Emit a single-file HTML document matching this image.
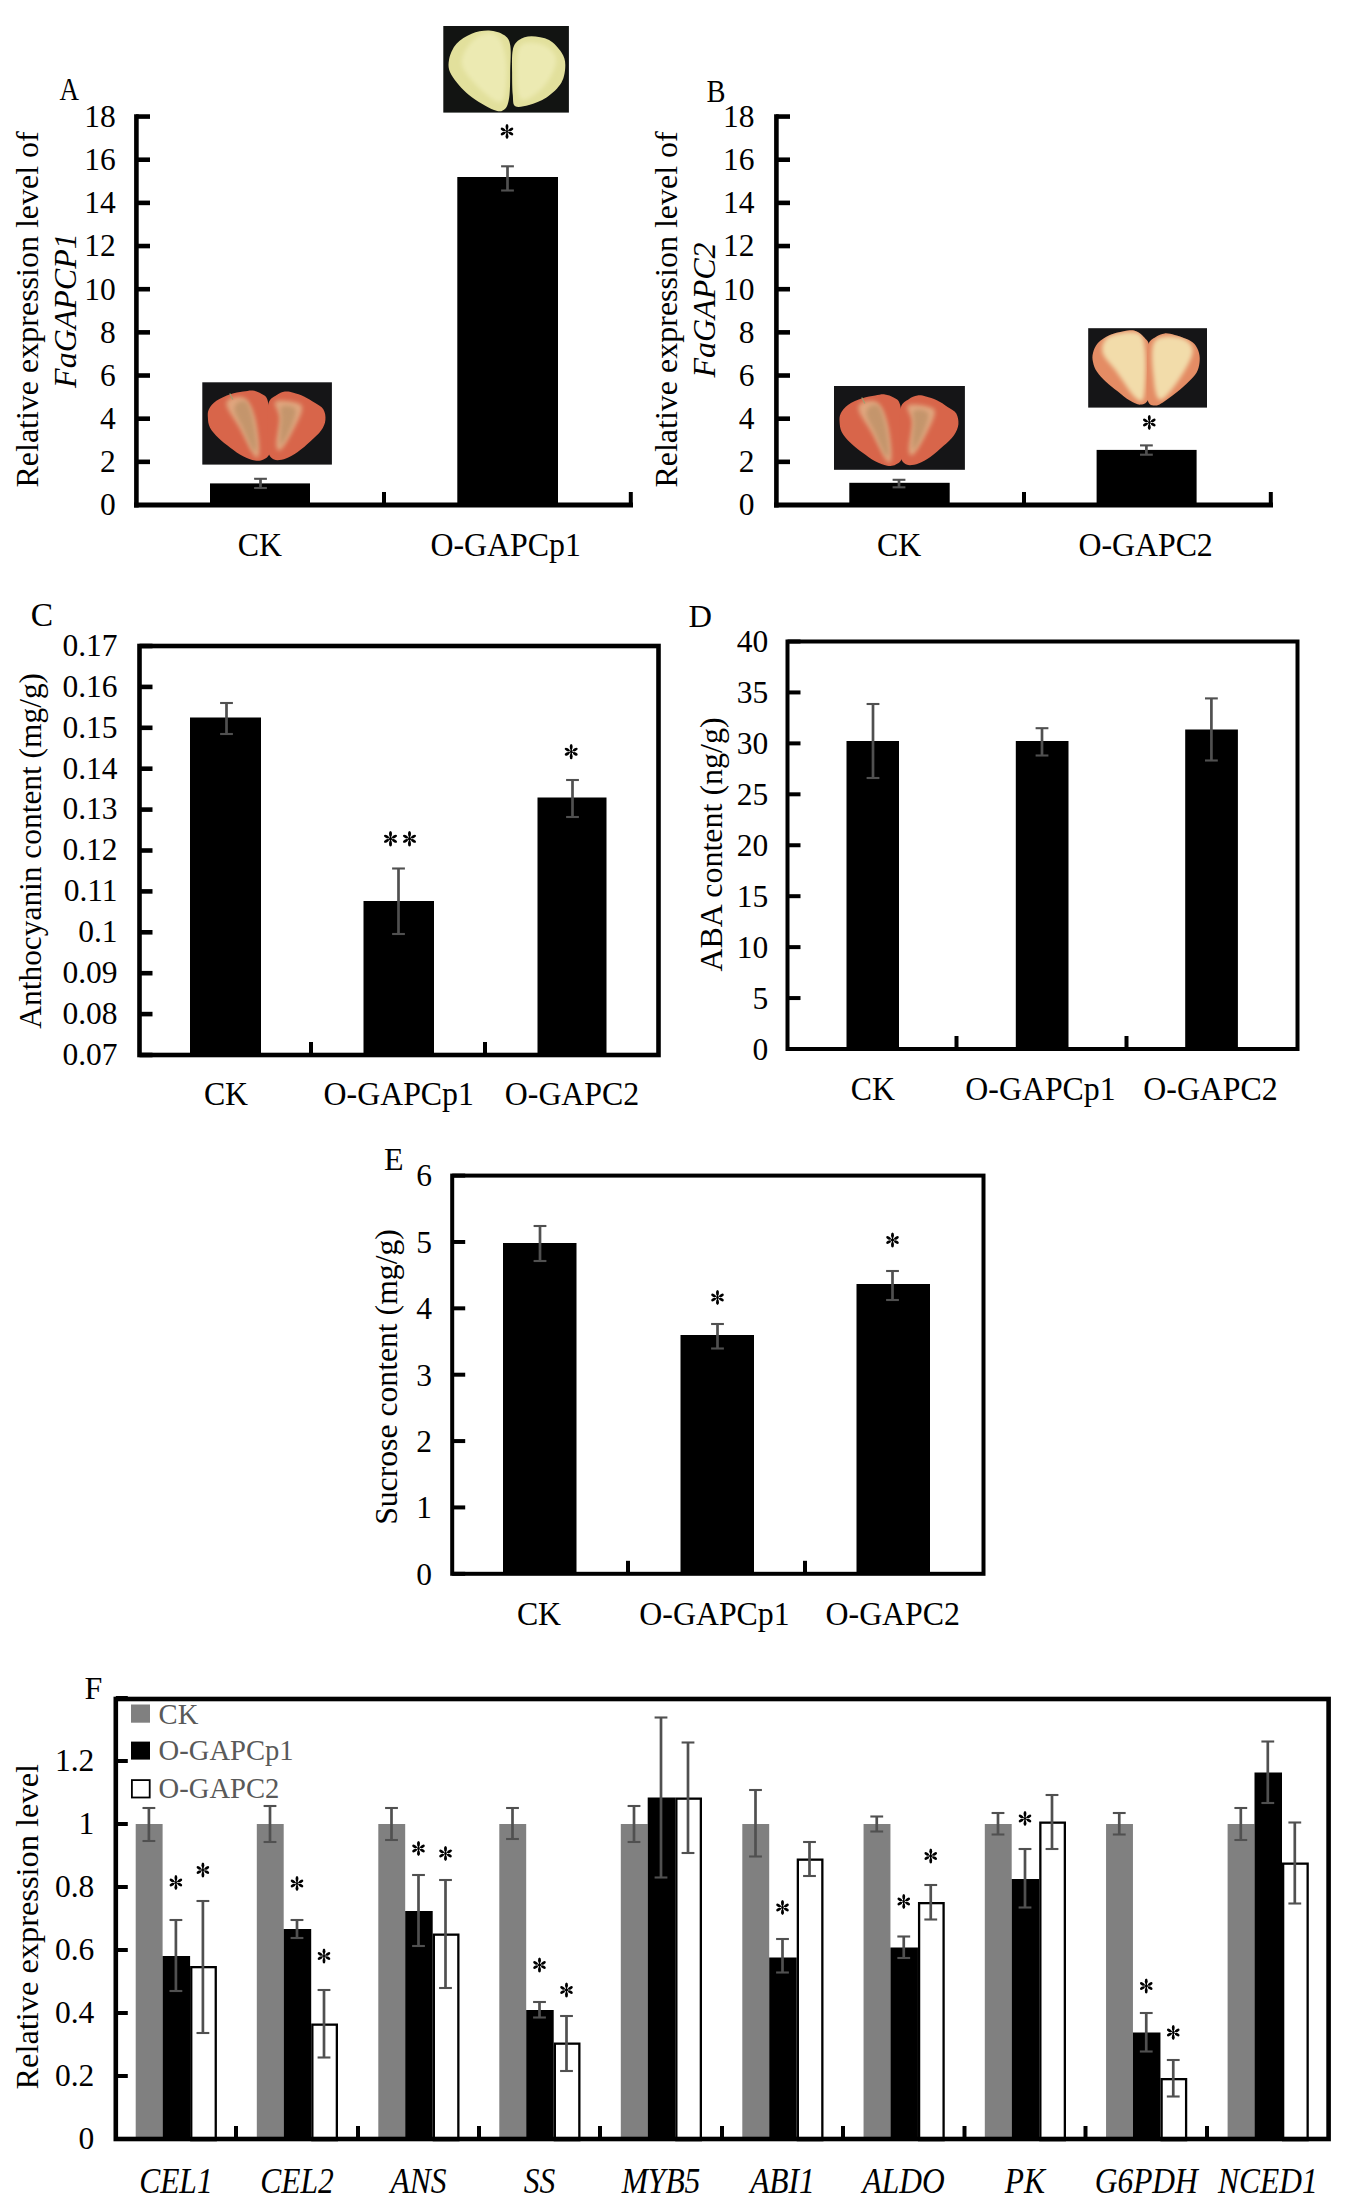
<!DOCTYPE html>
<html><head><meta charset="utf-8"><style>
html,body{margin:0;padding:0;background:#fff;width:1356px;height:2207px;overflow:hidden;}
</style></head><body>
<svg width="1356" height="2207" viewBox="0 0 1356 2207" style="display:block">
<defs><filter id="bl" x="-20%" y="-20%" width="140%" height="140%"><feGaussianBlur stdDeviation="2.2"/></filter></defs>
<g font-family='"Liberation Serif", serif'>
<line x1="136.40" y1="114.20" x2="136.40" y2="507.50" stroke="#000" stroke-width="4.6" stroke-linecap="butt"/>
<text x="115.80" y="515.40" font-size="31.5" text-anchor="end" fill="#000" >0</text>
<line x1="136.00" y1="461.84" x2="150.00" y2="461.84" stroke="#000" stroke-width="4.6" stroke-linecap="butt"/>
<text x="115.80" y="472.24" font-size="31.5" text-anchor="end" fill="#000" >2</text>
<line x1="136.00" y1="418.68" x2="150.00" y2="418.68" stroke="#000" stroke-width="4.6" stroke-linecap="butt"/>
<text x="115.80" y="429.08" font-size="31.5" text-anchor="end" fill="#000" >4</text>
<line x1="136.00" y1="375.52" x2="150.00" y2="375.52" stroke="#000" stroke-width="4.6" stroke-linecap="butt"/>
<text x="115.80" y="385.92" font-size="31.5" text-anchor="end" fill="#000" >6</text>
<line x1="136.00" y1="332.36" x2="150.00" y2="332.36" stroke="#000" stroke-width="4.6" stroke-linecap="butt"/>
<text x="115.80" y="342.76" font-size="31.5" text-anchor="end" fill="#000" >8</text>
<line x1="136.00" y1="289.20" x2="150.00" y2="289.20" stroke="#000" stroke-width="4.6" stroke-linecap="butt"/>
<text x="115.80" y="299.60" font-size="31.5" text-anchor="end" fill="#000" >10</text>
<line x1="136.00" y1="246.04" x2="150.00" y2="246.04" stroke="#000" stroke-width="4.6" stroke-linecap="butt"/>
<text x="115.80" y="256.44" font-size="31.5" text-anchor="end" fill="#000" >12</text>
<line x1="136.00" y1="202.88" x2="150.00" y2="202.88" stroke="#000" stroke-width="4.6" stroke-linecap="butt"/>
<text x="115.80" y="213.28" font-size="31.5" text-anchor="end" fill="#000" >14</text>
<line x1="136.00" y1="159.72" x2="150.00" y2="159.72" stroke="#000" stroke-width="4.6" stroke-linecap="butt"/>
<text x="115.80" y="170.12" font-size="31.5" text-anchor="end" fill="#000" >16</text>
<line x1="136.00" y1="116.56" x2="150.00" y2="116.56" stroke="#000" stroke-width="4.6" stroke-linecap="butt"/>
<text x="115.80" y="126.96" font-size="31.5" text-anchor="end" fill="#000" >18</text>
<line x1="134.00" y1="505.00" x2="633.00" y2="505.00" stroke="#000" stroke-width="5" stroke-linecap="butt"/>
<line x1="384.00" y1="492.00" x2="384.00" y2="505.00" stroke="#000" stroke-width="4" stroke-linecap="butt"/>
<line x1="630.80" y1="492.00" x2="630.80" y2="505.00" stroke="#000" stroke-width="4" stroke-linecap="butt"/>
<rect x="210.00" y="483.40" width="100.00" height="21.60" fill="#000" />
<rect x="457.30" y="177.00" width="100.70" height="328.00" fill="#000" />
<line x1="260.50" y1="478.80" x2="260.50" y2="488.00" stroke="#505050" stroke-width="2.7" stroke-linecap="butt"/>
<line x1="254.10" y1="478.80" x2="266.90" y2="478.80" stroke="#505050" stroke-width="2.1" stroke-linecap="butt"/>
<line x1="254.10" y1="488.00" x2="266.90" y2="488.00" stroke="#505050" stroke-width="2.1" stroke-linecap="butt"/>
<line x1="507.50" y1="166.30" x2="507.50" y2="190.50" stroke="#505050" stroke-width="2.7" stroke-linecap="butt"/>
<line x1="501.10" y1="166.30" x2="513.90" y2="166.30" stroke="#505050" stroke-width="2.1" stroke-linecap="butt"/>
<line x1="501.10" y1="190.50" x2="513.90" y2="190.50" stroke="#505050" stroke-width="2.1" stroke-linecap="butt"/>
<line x1="507.00" y1="125.12" x2="507.00" y2="137.88" stroke="#000" stroke-width="1.50"/><ellipse cx="507.00" cy="126.78" rx="1.43" ry="2.70" fill="#000"/><ellipse cx="507.00" cy="136.22" rx="1.43" ry="2.70" fill="#000"/><line x1="507.00" y1="131.50" x2="510.97" y2="129.39" stroke="#000" stroke-width="0.98"/><ellipse cx="510.97" cy="129.39" rx="2.55" ry="1.43" transform="rotate(-28 510.97 129.39)" fill="#000"/><line x1="507.00" y1="131.50" x2="510.97" y2="133.61" stroke="#000" stroke-width="0.98"/><ellipse cx="510.97" cy="133.61" rx="2.55" ry="1.43" transform="rotate(28 510.97 133.61)" fill="#000"/><line x1="507.00" y1="131.50" x2="503.03" y2="133.61" stroke="#000" stroke-width="0.98"/><ellipse cx="503.03" cy="133.61" rx="2.55" ry="1.43" transform="rotate(152 503.03 133.61)" fill="#000"/><line x1="507.00" y1="131.50" x2="503.03" y2="129.39" stroke="#000" stroke-width="0.98"/><ellipse cx="503.03" cy="129.39" rx="2.55" ry="1.43" transform="rotate(208 503.03 129.39)" fill="#000"/>
<text x="259.80" y="555.60" font-size="33" text-anchor="middle" fill="#000" transform="translate(259.80 555.60) scale(0.965 1) translate(-259.80 -555.60)" >CK</text>
<text x="505.70" y="555.60" font-size="33" text-anchor="middle" fill="#000" transform="translate(505.70 555.60) scale(0.965 1) translate(-505.70 -555.60)" >O-GAPCp1</text>
<text x="59.50" y="100.00" font-size="32" text-anchor="start" fill="#000" textLength="19.50" lengthAdjust="spacingAndGlyphs" >A</text>
<text x="38.00" y="309.40" font-size="32" text-anchor="middle" fill="#000" transform="rotate(-90 38.00 309.40)" >Relative expression level of</text>
<text x="75.80" y="310.60" font-size="32" text-anchor="middle" fill="#000" font-style="italic" transform="rotate(-90 75.80 310.60)" >FaGAPCP1</text>
<rect x="202.30" y="382.30" width="129.60" height="82.30" fill="#151517" />
<clipPath id="cl1"><path d="M267.7,400.7 C266.2,394.9 263.8,395.4 261.3,393.7 C258.8,392.1 255.7,390.9 252.7,390.5 C249.7,390.2 246.9,391.0 243.1,391.6 C239.4,392.2 234.7,392.7 230.3,394.2 C225.8,395.7 220.0,398.2 216.4,400.7 C212.9,403.1 210.3,406.4 208.9,409.2 C207.5,412.1 207.7,414.7 207.9,417.8 C208.0,420.8 208.2,424.0 209.9,427.4 C211.7,430.8 215.1,434.7 218.5,438.1 C221.9,441.5 226.2,444.7 230.3,447.7 C234.4,450.8 239.0,454.1 243.1,456.3 C247.2,458.4 251.5,460.0 254.9,460.6 C258.3,461.1 261.0,460.9 263.5,459.5 C266.0,458.1 268.7,457.2 270.0,452.0 C271.2,446.8 271.1,437.0 270.7,428.5 C270.4,419.9 269.3,406.4 267.7,400.7 Z"/></clipPath>
<path d="M267.7,400.7 C266.2,394.9 263.8,395.4 261.3,393.7 C258.8,392.1 255.7,390.9 252.7,390.5 C249.7,390.2 246.9,391.0 243.1,391.6 C239.4,392.2 234.7,392.7 230.3,394.2 C225.8,395.7 220.0,398.2 216.4,400.7 C212.9,403.1 210.3,406.4 208.9,409.2 C207.5,412.1 207.7,414.7 207.9,417.8 C208.0,420.8 208.2,424.0 209.9,427.4 C211.7,430.8 215.1,434.7 218.5,438.1 C221.9,441.5 226.2,444.7 230.3,447.7 C234.4,450.8 239.0,454.1 243.1,456.3 C247.2,458.4 251.5,460.0 254.9,460.6 C258.3,461.1 261.0,460.9 263.5,459.5 C266.0,458.1 268.7,457.2 270.0,452.0 C271.2,446.8 271.1,437.0 270.7,428.5 C270.4,419.9 269.3,406.4 267.7,400.7 Z" fill="#d8654a"/>
<g clip-path="url(#cl1)"><path d="M230.3,398.5 C233.3,397.1 241.2,395.3 245.3,398.5 C249.4,401.7 252.6,409.2 254.9,417.8 C257.2,426.3 259.2,443.4 259.2,449.9 C259.2,456.3 258.1,459.9 254.9,456.3 C251.7,452.7 244.5,436.7 239.9,428.5 C235.2,420.3 228.7,412.1 227.1,407.1 C225.5,402.1 227.2,399.9 230.3,398.5 Z" fill="#e0a67e" filter="url(#bl)"/></g>
<clipPath id="cl2"><path d="M268.7,402.8 C270.1,398.2 273.6,397.2 276.3,395.3 C279.0,393.4 282.0,392.0 284.9,391.6 C287.7,391.2 290.2,391.9 293.4,392.7 C296.6,393.5 300.5,394.7 304.0,396.4 C307.6,398.1 311.6,400.7 314.8,402.8 C318.0,404.9 321.6,406.4 323.3,409.2 C325.1,412.1 325.8,416.3 325.4,419.9 C325.1,423.5 323.6,427.0 321.1,430.6 C318.7,434.2 314.4,437.7 310.5,441.3 C306.6,444.9 301.8,449.2 297.7,452.0 C293.6,454.9 289.8,457.2 285.9,458.4 C282.0,459.7 277.1,460.9 274.1,459.5 C271.1,458.1 268.9,455.9 267.7,449.9 C266.6,443.8 267.2,431.0 267.4,423.1 C267.5,415.3 267.2,407.4 268.7,402.8 Z"/></clipPath>
<path d="M268.7,402.8 C270.1,398.2 273.6,397.2 276.3,395.3 C279.0,393.4 282.0,392.0 284.9,391.6 C287.7,391.2 290.2,391.9 293.4,392.7 C296.6,393.5 300.5,394.7 304.0,396.4 C307.6,398.1 311.6,400.7 314.8,402.8 C318.0,404.9 321.6,406.4 323.3,409.2 C325.1,412.1 325.8,416.3 325.4,419.9 C325.1,423.5 323.6,427.0 321.1,430.6 C318.7,434.2 314.4,437.7 310.5,441.3 C306.6,444.9 301.8,449.2 297.7,452.0 C293.6,454.9 289.8,457.2 285.9,458.4 C282.0,459.7 277.1,460.9 274.1,459.5 C271.1,458.1 268.9,455.9 267.7,449.9 C266.6,443.8 267.2,431.0 267.4,423.1 C267.5,415.3 267.2,407.4 268.7,402.8 Z" fill="#d8654a"/>
<g clip-path="url(#cl2)"><path d="M275.4,401.7 C278.2,399.2 292.2,401.4 296.6,402.8 C301.1,404.2 302.9,405.1 302.0,410.3 C301.1,415.5 294.8,427.2 291.2,433.8 C287.6,440.4 283.1,448.1 280.6,449.9 C278.1,451.7 276.5,449.9 276.3,444.5 C276.1,439.2 279.7,424.9 279.5,417.8 C279.4,410.6 272.5,404.2 275.4,401.7 Z" fill="#e0a67e" filter="url(#bl)"/></g>
<path d="M237.3,402.9 C239.2,401.4 243.8,399.3 246.4,402.1 C249.0,404.8 251.1,411.9 252.8,419.3 C254.6,426.7 256.7,441.4 256.7,446.5 C256.7,451.6 255.2,452.9 252.8,449.8 C250.5,446.6 245.5,434.0 242.5,427.6 C239.5,421.1 235.6,415.2 234.7,411.1 C233.8,407.0 235.3,404.4 237.3,402.9 Z" fill="#c4956c" filter="url(#bl)"/>
<path d="M281.4,407.0 C283.3,404.9 290.6,405.9 293.0,407.0 C295.4,408.1 296.3,409.5 295.6,413.6 C295.0,417.7 291.5,426.5 289.1,431.7 C286.8,436.9 282.9,443.8 281.4,444.8 C279.8,445.9 280.1,442.5 280.1,438.3 C280.1,434.0 281.1,424.5 281.4,419.3 C281.6,414.1 279.4,409.0 281.4,407.0 Z" fill="#c4956c" filter="url(#bl)"/>
<path d="M232.8,399.5 L229.8,393.5" stroke="#a0a070" stroke-width="1.2" fill="none"/>
<rect x="443.30" y="26.00" width="125.60" height="86.60" fill="#121412" />
<clipPath id="cl3"><path d="M510.2,45.0 C509.2,39.1 507.5,37.4 504.0,35.0 C500.4,32.6 494.4,30.7 489.0,30.5 C483.6,30.3 477.0,31.5 471.6,33.7 C466.1,35.9 460.3,39.4 456.5,43.8 C452.7,48.1 449.8,54.8 449.0,60.0 C448.1,65.2 448.1,69.2 451.5,75.0 C454.8,80.8 462.0,89.2 469.0,95.0 C476.1,100.9 488.0,107.7 494.0,110.0 C500.1,112.3 502.6,111.2 505.2,108.7 C507.8,106.2 508.7,101.5 509.5,95.0 C510.3,88.6 510.1,78.3 510.2,70.0 C510.4,61.7 511.3,50.8 510.2,45.0 Z"/></clipPath>
<path d="M510.2,45.0 C509.2,39.1 507.5,37.4 504.0,35.0 C500.4,32.6 494.4,30.7 489.0,30.5 C483.6,30.3 477.0,31.5 471.6,33.7 C466.1,35.9 460.3,39.4 456.5,43.8 C452.7,48.1 449.8,54.8 449.0,60.0 C448.1,65.2 448.1,69.2 451.5,75.0 C454.8,80.8 462.0,89.2 469.0,95.0 C476.1,100.9 488.0,107.7 494.0,110.0 C500.1,112.3 502.6,111.2 505.2,108.7 C507.8,106.2 508.7,101.5 509.5,95.0 C510.3,88.6 510.1,78.3 510.2,70.0 C510.4,61.7 511.3,50.8 510.2,45.0 Z" fill="#e2e09c"/>
<g clip-path="url(#cl3)"><path d="M474.7,39.0 C480.4,33.9 490.8,31.1 496.1,34.7 C501.3,38.3 504.8,49.8 506.1,60.6 C507.4,71.5 506.7,93.8 503.6,99.6 C500.4,105.4 494.2,101.1 487.3,95.3 C480.4,89.5 464.2,74.4 462.1,65.0 C460.0,55.6 469.0,44.0 474.7,39.0 Z" fill="#eceab2" filter="url(#bl)"/></g>
<clipPath id="cl4"><path d="M512.8,50.0 C513.9,44.6 515.9,42.3 519.0,40.0 C522.2,37.7 526.5,36.2 531.5,36.2 C536.5,36.2 544.1,37.3 549.1,40.0 C554.1,42.7 558.8,48.3 561.5,52.5 C564.2,56.7 565.3,60.0 565.3,65.0 C565.3,70.0 564.6,77.0 561.5,82.5 C558.4,87.9 552.0,93.8 546.5,97.5 C541.1,101.3 534.2,103.5 529.0,105.0 C523.7,106.4 518.0,107.9 515.3,106.3 C512.6,104.6 513.3,100.6 512.8,95.0 C512.2,89.4 512.1,80.0 512.1,72.5 C512.1,65.0 511.6,55.4 512.8,50.0 Z"/></clipPath>
<path d="M512.8,50.0 C513.9,44.6 515.9,42.3 519.0,40.0 C522.2,37.7 526.5,36.2 531.5,36.2 C536.5,36.2 544.1,37.3 549.1,40.0 C554.1,42.7 558.8,48.3 561.5,52.5 C564.2,56.7 565.3,60.0 565.3,65.0 C565.3,70.0 564.6,77.0 561.5,82.5 C558.4,87.9 552.0,93.8 546.5,97.5 C541.1,101.3 534.2,103.5 529.0,105.0 C523.7,106.4 518.0,107.9 515.3,106.3 C512.6,104.6 513.3,100.6 512.8,95.0 C512.2,89.4 512.1,80.0 512.1,72.5 C512.1,65.0 511.6,55.4 512.8,50.0 Z" fill="#e2e09c"/>
<g clip-path="url(#cl4)"><path d="M521.2,45.1 C525.8,41.0 537.9,42.5 543.8,45.1 C549.6,47.6 556.3,53.7 556.3,60.6 C556.3,67.6 549.6,80.1 543.8,86.6 C537.9,93.1 525.8,102.5 521.2,99.6 C516.6,96.7 516.1,78.4 516.1,69.3 C516.1,60.2 516.6,49.1 521.2,45.1 Z" fill="#eceab2" filter="url(#bl)"/></g>
<line x1="776.40" y1="114.20" x2="776.40" y2="507.50" stroke="#000" stroke-width="4.6" stroke-linecap="butt"/>
<text x="754.60" y="515.40" font-size="31.5" text-anchor="end" fill="#000" >0</text>
<line x1="776.00" y1="461.84" x2="790.00" y2="461.84" stroke="#000" stroke-width="4.6" stroke-linecap="butt"/>
<text x="754.60" y="472.24" font-size="31.5" text-anchor="end" fill="#000" >2</text>
<line x1="776.00" y1="418.68" x2="790.00" y2="418.68" stroke="#000" stroke-width="4.6" stroke-linecap="butt"/>
<text x="754.60" y="429.08" font-size="31.5" text-anchor="end" fill="#000" >4</text>
<line x1="776.00" y1="375.52" x2="790.00" y2="375.52" stroke="#000" stroke-width="4.6" stroke-linecap="butt"/>
<text x="754.60" y="385.92" font-size="31.5" text-anchor="end" fill="#000" >6</text>
<line x1="776.00" y1="332.36" x2="790.00" y2="332.36" stroke="#000" stroke-width="4.6" stroke-linecap="butt"/>
<text x="754.60" y="342.76" font-size="31.5" text-anchor="end" fill="#000" >8</text>
<line x1="776.00" y1="289.20" x2="790.00" y2="289.20" stroke="#000" stroke-width="4.6" stroke-linecap="butt"/>
<text x="754.60" y="299.60" font-size="31.5" text-anchor="end" fill="#000" >10</text>
<line x1="776.00" y1="246.04" x2="790.00" y2="246.04" stroke="#000" stroke-width="4.6" stroke-linecap="butt"/>
<text x="754.60" y="256.44" font-size="31.5" text-anchor="end" fill="#000" >12</text>
<line x1="776.00" y1="202.88" x2="790.00" y2="202.88" stroke="#000" stroke-width="4.6" stroke-linecap="butt"/>
<text x="754.60" y="213.28" font-size="31.5" text-anchor="end" fill="#000" >14</text>
<line x1="776.00" y1="159.72" x2="790.00" y2="159.72" stroke="#000" stroke-width="4.6" stroke-linecap="butt"/>
<text x="754.60" y="170.12" font-size="31.5" text-anchor="end" fill="#000" >16</text>
<line x1="776.00" y1="116.56" x2="790.00" y2="116.56" stroke="#000" stroke-width="4.6" stroke-linecap="butt"/>
<text x="754.60" y="126.96" font-size="31.5" text-anchor="end" fill="#000" >18</text>
<line x1="774.00" y1="505.00" x2="1273.00" y2="505.00" stroke="#000" stroke-width="5" stroke-linecap="butt"/>
<line x1="1024.00" y1="492.00" x2="1024.00" y2="505.00" stroke="#000" stroke-width="4" stroke-linecap="butt"/>
<line x1="1270.80" y1="492.00" x2="1270.80" y2="505.00" stroke="#000" stroke-width="4" stroke-linecap="butt"/>
<rect x="849.30" y="482.80" width="100.40" height="22.20" fill="#000" />
<rect x="1096.60" y="449.90" width="100.00" height="55.10" fill="#000" />
<line x1="899.00" y1="479.80" x2="899.00" y2="487.30" stroke="#505050" stroke-width="2.7" stroke-linecap="butt"/>
<line x1="892.60" y1="479.80" x2="905.40" y2="479.80" stroke="#505050" stroke-width="2.1" stroke-linecap="butt"/>
<line x1="892.60" y1="487.30" x2="905.40" y2="487.30" stroke="#505050" stroke-width="2.1" stroke-linecap="butt"/>
<line x1="1146.40" y1="445.40" x2="1146.40" y2="454.70" stroke="#505050" stroke-width="2.7" stroke-linecap="butt"/>
<line x1="1140.00" y1="445.40" x2="1152.80" y2="445.40" stroke="#505050" stroke-width="2.1" stroke-linecap="butt"/>
<line x1="1140.00" y1="454.70" x2="1152.80" y2="454.70" stroke="#505050" stroke-width="2.1" stroke-linecap="butt"/>
<line x1="1149.30" y1="416.12" x2="1149.30" y2="428.88" stroke="#000" stroke-width="1.50"/><ellipse cx="1149.30" cy="417.77" rx="1.43" ry="2.70" fill="#000"/><ellipse cx="1149.30" cy="427.23" rx="1.43" ry="2.70" fill="#000"/><line x1="1149.30" y1="422.50" x2="1153.27" y2="420.39" stroke="#000" stroke-width="0.98"/><ellipse cx="1153.27" cy="420.39" rx="2.55" ry="1.43" transform="rotate(-28 1153.27 420.39)" fill="#000"/><line x1="1149.30" y1="422.50" x2="1153.27" y2="424.61" stroke="#000" stroke-width="0.98"/><ellipse cx="1153.27" cy="424.61" rx="2.55" ry="1.43" transform="rotate(28 1153.27 424.61)" fill="#000"/><line x1="1149.30" y1="422.50" x2="1145.33" y2="424.61" stroke="#000" stroke-width="0.98"/><ellipse cx="1145.33" cy="424.61" rx="2.55" ry="1.43" transform="rotate(152 1145.33 424.61)" fill="#000"/><line x1="1149.30" y1="422.50" x2="1145.33" y2="420.39" stroke="#000" stroke-width="0.98"/><ellipse cx="1145.33" cy="420.39" rx="2.55" ry="1.43" transform="rotate(208 1145.33 420.39)" fill="#000"/>
<text x="899.20" y="555.60" font-size="33" text-anchor="middle" fill="#000" transform="translate(899.20 555.60) scale(0.965 1) translate(-899.20 -555.60)" >CK</text>
<text x="1145.60" y="555.60" font-size="33" text-anchor="middle" fill="#000" transform="translate(1145.60 555.60) scale(0.965 1) translate(-1145.60 -555.60)" >O-GAPC2</text>
<text x="706.50" y="102.00" font-size="32" text-anchor="start" fill="#000" textLength="19.00" lengthAdjust="spacingAndGlyphs" >B</text>
<text x="677.50" y="309.40" font-size="32" text-anchor="middle" fill="#000" transform="rotate(-90 677.50 309.40)" >Relative expression level of</text>
<text x="715.00" y="310.00" font-size="32" text-anchor="middle" fill="#000" font-style="italic" transform="rotate(-90 715.00 310.00)" >FaGAPC2</text>
<rect x="834.00" y="386.00" width="130.90" height="83.80" fill="#151517" />
<clipPath id="cl5"><path d="M900.1,404.7 C898.5,398.8 896.1,399.4 893.6,397.6 C891.0,395.9 888.0,394.7 884.9,394.4 C881.9,394.0 879.0,394.8 875.2,395.5 C871.5,396.1 866.8,396.6 862.3,398.2 C857.8,399.7 851.9,402.1 848.3,404.7 C844.7,407.2 842.1,410.5 840.7,413.4 C839.2,416.3 839.5,419.0 839.6,422.1 C839.8,425.2 839.9,428.5 841.7,431.9 C843.5,435.4 846.9,439.4 850.4,442.8 C853.8,446.3 858.1,449.5 862.3,452.6 C866.4,455.7 871.1,459.2 875.2,461.3 C879.4,463.5 883.7,465.1 887.1,465.7 C890.6,466.2 893.3,466.1 895.8,464.6 C898.3,463.2 901.1,462.2 902.3,457.0 C903.6,451.7 903.5,441.7 903.1,433.0 C902.7,424.3 901.7,410.6 900.1,404.7 Z"/></clipPath>
<path d="M900.1,404.7 C898.5,398.8 896.1,399.4 893.6,397.6 C891.0,395.9 888.0,394.7 884.9,394.4 C881.9,394.0 879.0,394.8 875.2,395.5 C871.5,396.1 866.8,396.6 862.3,398.2 C857.8,399.7 851.9,402.1 848.3,404.7 C844.7,407.2 842.1,410.5 840.7,413.4 C839.2,416.3 839.5,419.0 839.6,422.1 C839.8,425.2 839.9,428.5 841.7,431.9 C843.5,435.4 846.9,439.4 850.4,442.8 C853.8,446.3 858.1,449.5 862.3,452.6 C866.4,455.7 871.1,459.2 875.2,461.3 C879.4,463.5 883.7,465.1 887.1,465.7 C890.6,466.2 893.3,466.1 895.8,464.6 C898.3,463.2 901.1,462.2 902.3,457.0 C903.6,451.7 903.5,441.7 903.1,433.0 C902.7,424.3 901.7,410.6 900.1,404.7 Z" fill="#d8654a"/>
<g clip-path="url(#cl5)"><path d="M862.3,402.5 C865.4,401.1 873.3,399.2 877.5,402.5 C881.6,405.8 884.8,413.4 887.1,422.1 C889.5,430.8 891.5,448.3 891.5,454.8 C891.5,461.3 890.4,465.0 887.1,461.3 C883.9,457.7 876.7,441.4 872.0,433.0 C867.3,424.7 860.6,416.3 859.0,411.2 C857.4,406.1 859.2,404.0 862.3,402.5 Z" fill="#e0a67e" filter="url(#bl)"/></g>
<clipPath id="cl6"><path d="M901.0,406.9 C902.5,402.1 906.0,401.1 908.7,399.2 C911.5,397.3 914.5,395.9 917.4,395.5 C920.3,395.0 922.8,395.7 926.0,396.6 C929.3,397.4 933.2,398.6 936.8,400.3 C940.4,402.0 944.4,404.7 947.6,406.9 C950.9,409.0 954.5,410.5 956.3,413.4 C958.0,416.3 958.7,420.7 958.4,424.3 C958.0,427.9 956.5,431.6 954.0,435.2 C951.5,438.8 947.3,442.5 943.3,446.1 C939.4,449.7 934.5,454.1 930.3,457.0 C926.2,459.9 922.4,462.2 918.4,463.5 C914.5,464.8 909.6,466.1 906.5,464.6 C903.5,463.2 901.2,461.0 900.1,454.8 C899.0,448.6 899.6,435.6 899.7,427.6 C899.9,419.6 899.5,411.6 901.0,406.9 Z"/></clipPath>
<path d="M901.0,406.9 C902.5,402.1 906.0,401.1 908.7,399.2 C911.5,397.3 914.5,395.9 917.4,395.5 C920.3,395.0 922.8,395.7 926.0,396.6 C929.3,397.4 933.2,398.6 936.8,400.3 C940.4,402.0 944.4,404.7 947.6,406.9 C950.9,409.0 954.5,410.5 956.3,413.4 C958.0,416.3 958.7,420.7 958.4,424.3 C958.0,427.9 956.5,431.6 954.0,435.2 C951.5,438.8 947.3,442.5 943.3,446.1 C939.4,449.7 934.5,454.1 930.3,457.0 C926.2,459.9 922.4,462.2 918.4,463.5 C914.5,464.8 909.6,466.1 906.5,464.6 C903.5,463.2 901.2,461.0 900.1,454.8 C899.0,448.6 899.6,435.6 899.7,427.6 C899.9,419.6 899.5,411.6 901.0,406.9 Z" fill="#d8654a"/>
<g clip-path="url(#cl6)"><path d="M907.8,405.8 C910.7,403.2 924.8,405.4 929.3,406.9 C933.8,408.3 935.6,409.2 934.7,414.5 C933.7,419.8 927.4,431.7 923.8,438.5 C920.2,445.2 915.6,453.0 913.1,454.8 C910.6,456.6 908.9,454.8 908.7,449.4 C908.6,443.9 912.2,429.4 912.0,422.1 C911.9,414.9 904.9,408.3 907.8,405.8 Z" fill="#e0a67e" filter="url(#bl)"/></g>
<path d="M869.3,406.9 C871.3,405.4 875.9,403.3 878.5,406.1 C881.1,408.9 883.3,416.2 885.1,423.7 C886.8,431.3 889.0,446.2 889.0,451.4 C889.0,456.5 887.5,457.9 885.1,454.7 C882.7,451.5 877.6,438.7 874.6,432.1 C871.5,425.5 867.6,419.5 866.7,415.3 C865.9,411.1 867.4,408.5 869.3,406.9 Z" fill="#c4956c" filter="url(#bl)"/>
<path d="M913.8,411.1 C915.8,409.0 923.2,410.0 925.6,411.1 C928.0,412.3 928.9,413.7 928.2,417.8 C927.6,422.0 924.1,431.0 921.7,436.3 C919.3,441.6 915.4,448.6 913.8,449.7 C912.3,450.8 912.5,447.3 912.5,443.0 C912.5,438.7 913.6,429.0 913.8,423.7 C914.1,418.4 911.9,413.2 913.8,411.1 Z" fill="#c4956c" filter="url(#bl)"/>
<path d="M864.8,403.4 L861.8,397.4" stroke="#a0a070" stroke-width="1.2" fill="none"/>
<rect x="1088.20" y="328.20" width="118.80" height="79.40" fill="#151517" />
<clipPath id="cl7"><path d="M1127.9,330.5 C1132.4,329.9 1134.1,330.4 1136.8,331.5 C1139.4,332.5 1141.7,334.5 1143.8,336.9 C1145.9,339.3 1148.3,340.4 1149.4,345.9 C1150.4,351.4 1150.2,361.2 1150.1,369.8 C1150.0,378.4 1150.2,391.9 1148.7,397.7 C1147.1,403.5 1144.0,404.1 1140.8,404.6 C1137.7,405.1 1133.6,402.8 1129.8,400.6 C1126.0,398.5 1121.9,394.8 1117.9,391.6 C1113.9,388.5 1109.4,385.0 1105.9,381.7 C1102.4,378.4 1099.1,375.1 1097.0,371.8 C1094.8,368.5 1093.6,365.0 1093.0,361.9 C1092.3,358.7 1092.1,356.1 1093.0,352.9 C1093.8,349.7 1095.1,345.9 1097.9,342.9 C1100.8,339.9 1105.0,337.0 1109.9,334.9 C1114.9,332.9 1123.4,331.1 1127.9,330.5 Z"/></clipPath>
<path d="M1127.9,330.5 C1132.4,329.9 1134.1,330.4 1136.8,331.5 C1139.4,332.5 1141.7,334.5 1143.8,336.9 C1145.9,339.3 1148.3,340.4 1149.4,345.9 C1150.4,351.4 1150.2,361.2 1150.1,369.8 C1150.0,378.4 1150.2,391.9 1148.7,397.7 C1147.1,403.5 1144.0,404.1 1140.8,404.6 C1137.7,405.1 1133.6,402.8 1129.8,400.6 C1126.0,398.5 1121.9,394.8 1117.9,391.6 C1113.9,388.5 1109.4,385.0 1105.9,381.7 C1102.4,378.4 1099.1,375.1 1097.0,371.8 C1094.8,368.5 1093.6,365.0 1093.0,361.9 C1092.3,358.7 1092.1,356.1 1093.0,352.9 C1093.8,349.7 1095.1,345.9 1097.9,342.9 C1100.8,339.9 1105.0,337.0 1109.9,334.9 C1114.9,332.9 1123.4,331.1 1127.9,330.5 Z" fill="#e48c64"/>
<g clip-path="url(#cl7)"><path d="M1109.6,336.1 C1115.5,333.0 1132.2,330.3 1138.1,333.0 C1144.0,335.6 1144.2,341.6 1145.2,352.0 C1146.2,362.5 1145.6,388.0 1144.0,395.7 C1142.5,403.4 1140.3,402.0 1135.7,398.1 C1131.2,394.1 1122.3,379.5 1116.7,371.9 C1111.2,364.2 1103.6,358.0 1102.5,352.0 C1101.3,346.1 1103.6,339.3 1109.6,336.1 Z" fill="#f2dcaa" filter="url(#bl)"/></g>
<clipPath id="cl8"><path d="M1148.2,345.0 C1149.6,339.5 1152.9,338.9 1155.7,336.9 C1158.4,335.0 1161.5,333.8 1164.7,333.4 C1167.9,333.1 1171.0,334.0 1174.7,334.9 C1178.3,335.9 1183.3,337.4 1186.6,338.9 C1189.9,340.4 1192.4,341.6 1194.5,343.9 C1196.6,346.3 1198.2,349.7 1199.0,352.9 C1199.9,356.0 1199.9,359.5 1199.5,362.8 C1199.1,366.1 1198.4,369.6 1196.5,372.7 C1194.7,375.9 1191.7,378.6 1188.6,381.7 C1185.4,384.9 1181.3,388.6 1177.7,391.6 C1174.0,394.6 1170.4,397.3 1166.7,399.7 C1163.1,402.0 1158.9,405.6 1155.7,405.6 C1152.5,405.6 1149.0,405.6 1147.6,399.7 C1146.2,393.7 1146.9,378.9 1147.0,369.8 C1147.1,360.7 1146.7,350.4 1148.2,345.0 Z"/></clipPath>
<path d="M1148.2,345.0 C1149.6,339.5 1152.9,338.9 1155.7,336.9 C1158.4,335.0 1161.5,333.8 1164.7,333.4 C1167.9,333.1 1171.0,334.0 1174.7,334.9 C1178.3,335.9 1183.3,337.4 1186.6,338.9 C1189.9,340.4 1192.4,341.6 1194.5,343.9 C1196.6,346.3 1198.2,349.7 1199.0,352.9 C1199.9,356.0 1199.9,359.5 1199.5,362.8 C1199.1,366.1 1198.4,369.6 1196.5,372.7 C1194.7,375.9 1191.7,378.6 1188.6,381.7 C1185.4,384.9 1181.3,388.6 1177.7,391.6 C1174.0,394.6 1170.4,397.3 1166.7,399.7 C1163.1,402.0 1158.9,405.6 1155.7,405.6 C1152.5,405.6 1149.0,405.6 1147.6,399.7 C1146.2,393.7 1146.9,378.9 1147.0,369.8 C1147.1,360.7 1146.7,350.4 1148.2,345.0 Z" fill="#e48c64"/>
<g clip-path="url(#cl8)"><path d="M1154.7,340.9 C1159.3,334.6 1174.5,335.9 1180.9,337.7 C1187.2,339.6 1193.5,344.3 1192.7,352.0 C1192.0,359.7 1181.7,375.8 1176.1,383.8 C1170.6,391.7 1163.2,401.0 1159.5,399.7 C1155.7,398.3 1154.3,385.6 1153.5,375.8 C1152.7,366.0 1150.2,347.3 1154.7,340.9 Z" fill="#f2dcaa" filter="url(#bl)"/></g>
<rect x="139.5" y="646" width="519.0" height="409" fill="none" stroke="#000" stroke-width="4.6"/>
<line x1="139.50" y1="646.00" x2="152.50" y2="646.00" stroke="#000" stroke-width="4.6" stroke-linecap="butt"/>
<text x="117.60" y="655.80" font-size="31.5" text-anchor="end" fill="#000" >0.17</text>
<line x1="139.50" y1="686.90" x2="152.50" y2="686.90" stroke="#000" stroke-width="4.6" stroke-linecap="butt"/>
<text x="117.60" y="696.70" font-size="31.5" text-anchor="end" fill="#000" >0.16</text>
<line x1="139.50" y1="727.80" x2="152.50" y2="727.80" stroke="#000" stroke-width="4.6" stroke-linecap="butt"/>
<text x="117.60" y="737.60" font-size="31.5" text-anchor="end" fill="#000" >0.15</text>
<line x1="139.50" y1="768.70" x2="152.50" y2="768.70" stroke="#000" stroke-width="4.6" stroke-linecap="butt"/>
<text x="117.60" y="778.50" font-size="31.5" text-anchor="end" fill="#000" >0.14</text>
<line x1="139.50" y1="809.60" x2="152.50" y2="809.60" stroke="#000" stroke-width="4.6" stroke-linecap="butt"/>
<text x="117.60" y="819.40" font-size="31.5" text-anchor="end" fill="#000" >0.13</text>
<line x1="139.50" y1="850.50" x2="152.50" y2="850.50" stroke="#000" stroke-width="4.6" stroke-linecap="butt"/>
<text x="117.60" y="860.30" font-size="31.5" text-anchor="end" fill="#000" >0.12</text>
<line x1="139.50" y1="891.40" x2="152.50" y2="891.40" stroke="#000" stroke-width="4.6" stroke-linecap="butt"/>
<text x="117.60" y="901.20" font-size="31.5" text-anchor="end" fill="#000" >0.11</text>
<line x1="139.50" y1="932.30" x2="152.50" y2="932.30" stroke="#000" stroke-width="4.6" stroke-linecap="butt"/>
<text x="117.60" y="942.10" font-size="31.5" text-anchor="end" fill="#000" >0.1</text>
<line x1="139.50" y1="973.20" x2="152.50" y2="973.20" stroke="#000" stroke-width="4.6" stroke-linecap="butt"/>
<text x="117.60" y="983.00" font-size="31.5" text-anchor="end" fill="#000" >0.09</text>
<line x1="139.50" y1="1014.10" x2="152.50" y2="1014.10" stroke="#000" stroke-width="4.6" stroke-linecap="butt"/>
<text x="117.60" y="1023.90" font-size="31.5" text-anchor="end" fill="#000" >0.08</text>
<line x1="139.50" y1="1055.00" x2="152.50" y2="1055.00" stroke="#000" stroke-width="4.6" stroke-linecap="butt"/>
<text x="117.60" y="1064.80" font-size="31.5" text-anchor="end" fill="#000" >0.07</text>
<line x1="311.00" y1="1042.00" x2="311.00" y2="1055.00" stroke="#000" stroke-width="4" stroke-linecap="butt"/>
<line x1="485.00" y1="1042.00" x2="485.00" y2="1055.00" stroke="#000" stroke-width="4" stroke-linecap="butt"/>
<rect x="190.00" y="717.50" width="71.00" height="337.50" fill="#000" />
<rect x="363.50" y="901.00" width="70.50" height="154.00" fill="#000" />
<rect x="537.50" y="797.50" width="69.00" height="257.50" fill="#000" />
<line x1="226.50" y1="703.00" x2="226.50" y2="734.00" stroke="#505050" stroke-width="2.7" stroke-linecap="butt"/>
<line x1="220.10" y1="703.00" x2="232.90" y2="703.00" stroke="#505050" stroke-width="2.1" stroke-linecap="butt"/>
<line x1="220.10" y1="734.00" x2="232.90" y2="734.00" stroke="#505050" stroke-width="2.1" stroke-linecap="butt"/>
<line x1="398.50" y1="868.50" x2="398.50" y2="934.00" stroke="#505050" stroke-width="2.7" stroke-linecap="butt"/>
<line x1="392.10" y1="868.50" x2="404.90" y2="868.50" stroke="#505050" stroke-width="2.1" stroke-linecap="butt"/>
<line x1="392.10" y1="934.00" x2="404.90" y2="934.00" stroke="#505050" stroke-width="2.1" stroke-linecap="butt"/>
<line x1="572.50" y1="780.00" x2="572.50" y2="817.00" stroke="#505050" stroke-width="2.7" stroke-linecap="butt"/>
<line x1="566.10" y1="780.00" x2="578.90" y2="780.00" stroke="#505050" stroke-width="2.1" stroke-linecap="butt"/>
<line x1="566.10" y1="817.00" x2="578.90" y2="817.00" stroke="#505050" stroke-width="2.1" stroke-linecap="butt"/>
<line x1="390.50" y1="832.16" x2="390.50" y2="845.34" stroke="#000" stroke-width="1.55"/><ellipse cx="390.50" cy="833.87" rx="1.47" ry="2.79" fill="#000"/><ellipse cx="390.50" cy="843.63" rx="1.47" ry="2.79" fill="#000"/><line x1="390.50" y1="838.75" x2="394.61" y2="836.57" stroke="#000" stroke-width="1.01"/><ellipse cx="394.61" cy="836.57" rx="2.64" ry="1.47" transform="rotate(-28 394.61 836.57)" fill="#000"/><line x1="390.50" y1="838.75" x2="394.61" y2="840.93" stroke="#000" stroke-width="1.01"/><ellipse cx="394.61" cy="840.93" rx="2.64" ry="1.47" transform="rotate(28 394.61 840.93)" fill="#000"/><line x1="390.50" y1="838.75" x2="386.39" y2="840.93" stroke="#000" stroke-width="1.01"/><ellipse cx="386.39" cy="840.93" rx="2.64" ry="1.47" transform="rotate(152 386.39 840.93)" fill="#000"/><line x1="390.50" y1="838.75" x2="386.39" y2="836.57" stroke="#000" stroke-width="1.01"/><ellipse cx="386.39" cy="836.57" rx="2.64" ry="1.47" transform="rotate(208 386.39 836.57)" fill="#000"/>
<line x1="409.50" y1="832.16" x2="409.50" y2="845.34" stroke="#000" stroke-width="1.55"/><ellipse cx="409.50" cy="833.87" rx="1.47" ry="2.79" fill="#000"/><ellipse cx="409.50" cy="843.63" rx="1.47" ry="2.79" fill="#000"/><line x1="409.50" y1="838.75" x2="413.61" y2="836.57" stroke="#000" stroke-width="1.01"/><ellipse cx="413.61" cy="836.57" rx="2.64" ry="1.47" transform="rotate(-28 413.61 836.57)" fill="#000"/><line x1="409.50" y1="838.75" x2="413.61" y2="840.93" stroke="#000" stroke-width="1.01"/><ellipse cx="413.61" cy="840.93" rx="2.64" ry="1.47" transform="rotate(28 413.61 840.93)" fill="#000"/><line x1="409.50" y1="838.75" x2="405.39" y2="840.93" stroke="#000" stroke-width="1.01"/><ellipse cx="405.39" cy="840.93" rx="2.64" ry="1.47" transform="rotate(152 405.39 840.93)" fill="#000"/><line x1="409.50" y1="838.75" x2="405.39" y2="836.57" stroke="#000" stroke-width="1.01"/><ellipse cx="405.39" cy="836.57" rx="2.64" ry="1.47" transform="rotate(208 405.39 836.57)" fill="#000"/>
<line x1="571.20" y1="745.16" x2="571.20" y2="758.25" stroke="#000" stroke-width="1.54"/><ellipse cx="571.20" cy="746.85" rx="1.46" ry="2.77" fill="#000"/><ellipse cx="571.20" cy="756.55" rx="1.46" ry="2.77" fill="#000"/><line x1="571.20" y1="751.70" x2="575.28" y2="749.53" stroke="#000" stroke-width="1.00"/><ellipse cx="575.28" cy="749.53" rx="2.62" ry="1.46" transform="rotate(-28 575.28 749.53)" fill="#000"/><line x1="571.20" y1="751.70" x2="575.28" y2="753.87" stroke="#000" stroke-width="1.00"/><ellipse cx="575.28" cy="753.87" rx="2.62" ry="1.46" transform="rotate(28 575.28 753.87)" fill="#000"/><line x1="571.20" y1="751.70" x2="567.12" y2="753.87" stroke="#000" stroke-width="1.00"/><ellipse cx="567.12" cy="753.87" rx="2.62" ry="1.46" transform="rotate(152 567.12 753.87)" fill="#000"/><line x1="571.20" y1="751.70" x2="567.12" y2="749.53" stroke="#000" stroke-width="1.00"/><ellipse cx="567.12" cy="749.53" rx="2.62" ry="1.46" transform="rotate(208 567.12 749.53)" fill="#000"/>
<text x="226.00" y="1105.00" font-size="33" text-anchor="middle" fill="#000" transform="translate(226.00 1105.00) scale(0.965 1) translate(-226.00 -1105.00)" >CK</text>
<text x="398.75" y="1105.00" font-size="33" text-anchor="middle" fill="#000" transform="translate(398.75 1105.00) scale(0.965 1) translate(-398.75 -1105.00)" >O-GAPCp1</text>
<text x="572.00" y="1105.00" font-size="33" text-anchor="middle" fill="#000" transform="translate(572.00 1105.00) scale(0.965 1) translate(-572.00 -1105.00)" >O-GAPC2</text>
<text x="41.00" y="850.80" font-size="31.4" text-anchor="middle" fill="#000" transform="rotate(-90 41.00 850.80)" >Anthocyanin content (mg/g)</text>
<text x="30.80" y="626.30" font-size="33.5" text-anchor="start" fill="#000" >C</text>
<rect x="787.5" y="641.5" width="510.0" height="407.5" fill="none" stroke="#000" stroke-width="4.0"/>
<line x1="787.50" y1="1049.00" x2="800.50" y2="1049.00" stroke="#000" stroke-width="4.0" stroke-linecap="butt"/>
<text x="768.20" y="1059.80" font-size="31.5" text-anchor="end" fill="#000" >0</text>
<line x1="787.50" y1="998.06" x2="800.50" y2="998.06" stroke="#000" stroke-width="4.0" stroke-linecap="butt"/>
<text x="768.20" y="1008.86" font-size="31.5" text-anchor="end" fill="#000" >5</text>
<line x1="787.50" y1="947.12" x2="800.50" y2="947.12" stroke="#000" stroke-width="4.0" stroke-linecap="butt"/>
<text x="768.20" y="957.92" font-size="31.5" text-anchor="end" fill="#000" >10</text>
<line x1="787.50" y1="896.19" x2="800.50" y2="896.19" stroke="#000" stroke-width="4.0" stroke-linecap="butt"/>
<text x="768.20" y="906.99" font-size="31.5" text-anchor="end" fill="#000" >15</text>
<line x1="787.50" y1="845.25" x2="800.50" y2="845.25" stroke="#000" stroke-width="4.0" stroke-linecap="butt"/>
<text x="768.20" y="856.05" font-size="31.5" text-anchor="end" fill="#000" >20</text>
<line x1="787.50" y1="794.31" x2="800.50" y2="794.31" stroke="#000" stroke-width="4.0" stroke-linecap="butt"/>
<text x="768.20" y="805.11" font-size="31.5" text-anchor="end" fill="#000" >25</text>
<line x1="787.50" y1="743.38" x2="800.50" y2="743.38" stroke="#000" stroke-width="4.0" stroke-linecap="butt"/>
<text x="768.20" y="754.17" font-size="31.5" text-anchor="end" fill="#000" >30</text>
<line x1="787.50" y1="692.44" x2="800.50" y2="692.44" stroke="#000" stroke-width="4.0" stroke-linecap="butt"/>
<text x="768.20" y="703.24" font-size="31.5" text-anchor="end" fill="#000" >35</text>
<line x1="787.50" y1="641.50" x2="800.50" y2="641.50" stroke="#000" stroke-width="4.0" stroke-linecap="butt"/>
<text x="768.20" y="652.30" font-size="31.5" text-anchor="end" fill="#000" >40</text>
<line x1="956.50" y1="1036.00" x2="956.50" y2="1049.00" stroke="#000" stroke-width="4" stroke-linecap="butt"/>
<line x1="1126.50" y1="1036.00" x2="1126.50" y2="1049.00" stroke="#000" stroke-width="4" stroke-linecap="butt"/>
<rect x="846.50" y="741.00" width="52.50" height="308.00" fill="#000" />
<rect x="1015.80" y="741.00" width="52.70" height="308.00" fill="#000" />
<rect x="1185.20" y="729.50" width="52.70" height="319.50" fill="#000" />
<line x1="873.00" y1="704.00" x2="873.00" y2="778.00" stroke="#505050" stroke-width="2.7" stroke-linecap="butt"/>
<line x1="866.60" y1="704.00" x2="879.40" y2="704.00" stroke="#505050" stroke-width="2.1" stroke-linecap="butt"/>
<line x1="866.60" y1="778.00" x2="879.40" y2="778.00" stroke="#505050" stroke-width="2.1" stroke-linecap="butt"/>
<line x1="1042.00" y1="728.20" x2="1042.00" y2="755.50" stroke="#505050" stroke-width="2.7" stroke-linecap="butt"/>
<line x1="1035.60" y1="728.20" x2="1048.40" y2="728.20" stroke="#505050" stroke-width="2.1" stroke-linecap="butt"/>
<line x1="1035.60" y1="755.50" x2="1048.40" y2="755.50" stroke="#505050" stroke-width="2.1" stroke-linecap="butt"/>
<line x1="1211.40" y1="698.40" x2="1211.40" y2="760.50" stroke="#505050" stroke-width="2.7" stroke-linecap="butt"/>
<line x1="1205.00" y1="698.40" x2="1217.80" y2="698.40" stroke="#505050" stroke-width="2.1" stroke-linecap="butt"/>
<line x1="1205.00" y1="760.50" x2="1217.80" y2="760.50" stroke="#505050" stroke-width="2.1" stroke-linecap="butt"/>
<text x="873.00" y="1100.00" font-size="33" text-anchor="middle" fill="#000" transform="translate(873.00 1100.00) scale(0.965 1) translate(-873.00 -1100.00)" >CK</text>
<text x="1040.50" y="1100.00" font-size="33" text-anchor="middle" fill="#000" transform="translate(1040.50 1100.00) scale(0.965 1) translate(-1040.50 -1100.00)" >O-GAPCp1</text>
<text x="1210.50" y="1100.00" font-size="33" text-anchor="middle" fill="#000" transform="translate(1210.50 1100.00) scale(0.965 1) translate(-1210.50 -1100.00)" >O-GAPC2</text>
<text x="722.00" y="844.50" font-size="32" text-anchor="middle" fill="#000" transform="rotate(-90 722.00 844.50)" >ABA content (ng/g)</text>
<text x="688.50" y="626.50" font-size="32.5" text-anchor="start" fill="#000" >D</text>
<rect x="452.2" y="1175.6" width="531.3" height="398.20000000000005" fill="none" stroke="#000" stroke-width="4.0"/>
<line x1="452.20" y1="1573.80" x2="465.20" y2="1573.80" stroke="#000" stroke-width="4.0" stroke-linecap="butt"/>
<text x="432.00" y="1584.60" font-size="31.5" text-anchor="end" fill="#000" >0</text>
<line x1="452.20" y1="1507.43" x2="465.20" y2="1507.43" stroke="#000" stroke-width="4.0" stroke-linecap="butt"/>
<text x="432.00" y="1518.23" font-size="31.5" text-anchor="end" fill="#000" >1</text>
<line x1="452.20" y1="1441.07" x2="465.20" y2="1441.07" stroke="#000" stroke-width="4.0" stroke-linecap="butt"/>
<text x="432.00" y="1451.87" font-size="31.5" text-anchor="end" fill="#000" >2</text>
<line x1="452.20" y1="1374.70" x2="465.20" y2="1374.70" stroke="#000" stroke-width="4.0" stroke-linecap="butt"/>
<text x="432.00" y="1385.50" font-size="31.5" text-anchor="end" fill="#000" >3</text>
<line x1="452.20" y1="1308.33" x2="465.20" y2="1308.33" stroke="#000" stroke-width="4.0" stroke-linecap="butt"/>
<text x="432.00" y="1319.13" font-size="31.5" text-anchor="end" fill="#000" >4</text>
<line x1="452.20" y1="1241.97" x2="465.20" y2="1241.97" stroke="#000" stroke-width="4.0" stroke-linecap="butt"/>
<text x="432.00" y="1252.77" font-size="31.5" text-anchor="end" fill="#000" >5</text>
<line x1="452.20" y1="1175.60" x2="465.20" y2="1175.60" stroke="#000" stroke-width="4.0" stroke-linecap="butt"/>
<text x="432.00" y="1186.40" font-size="31.5" text-anchor="end" fill="#000" >6</text>
<line x1="628.00" y1="1560.80" x2="628.00" y2="1573.80" stroke="#000" stroke-width="4" stroke-linecap="butt"/>
<line x1="805.00" y1="1560.80" x2="805.00" y2="1573.80" stroke="#000" stroke-width="4" stroke-linecap="butt"/>
<rect x="503.00" y="1243.00" width="73.50" height="330.00" fill="#000" />
<rect x="680.50" y="1335.00" width="73.50" height="238.00" fill="#000" />
<rect x="856.50" y="1284.00" width="73.50" height="289.00" fill="#000" />
<line x1="540.00" y1="1226.00" x2="540.00" y2="1261.00" stroke="#505050" stroke-width="2.7" stroke-linecap="butt"/>
<line x1="533.60" y1="1226.00" x2="546.40" y2="1226.00" stroke="#505050" stroke-width="2.1" stroke-linecap="butt"/>
<line x1="533.60" y1="1261.00" x2="546.40" y2="1261.00" stroke="#505050" stroke-width="2.1" stroke-linecap="butt"/>
<line x1="717.50" y1="1324.00" x2="717.50" y2="1348.50" stroke="#505050" stroke-width="2.7" stroke-linecap="butt"/>
<line x1="711.10" y1="1324.00" x2="723.90" y2="1324.00" stroke="#505050" stroke-width="2.1" stroke-linecap="butt"/>
<line x1="711.10" y1="1348.50" x2="723.90" y2="1348.50" stroke="#505050" stroke-width="2.1" stroke-linecap="butt"/>
<line x1="892.50" y1="1271.00" x2="892.50" y2="1300.00" stroke="#505050" stroke-width="2.7" stroke-linecap="butt"/>
<line x1="886.10" y1="1271.00" x2="898.90" y2="1271.00" stroke="#505050" stroke-width="2.1" stroke-linecap="butt"/>
<line x1="886.10" y1="1300.00" x2="898.90" y2="1300.00" stroke="#505050" stroke-width="2.1" stroke-linecap="butt"/>
<line x1="717.50" y1="1291.12" x2="717.50" y2="1303.88" stroke="#000" stroke-width="1.50"/><ellipse cx="717.50" cy="1292.78" rx="1.43" ry="2.70" fill="#000"/><ellipse cx="717.50" cy="1302.22" rx="1.43" ry="2.70" fill="#000"/><line x1="717.50" y1="1297.50" x2="721.47" y2="1295.39" stroke="#000" stroke-width="0.98"/><ellipse cx="721.47" cy="1295.39" rx="2.55" ry="1.43" transform="rotate(-28 721.47 1295.39)" fill="#000"/><line x1="717.50" y1="1297.50" x2="721.47" y2="1299.61" stroke="#000" stroke-width="0.98"/><ellipse cx="721.47" cy="1299.61" rx="2.55" ry="1.43" transform="rotate(28 721.47 1299.61)" fill="#000"/><line x1="717.50" y1="1297.50" x2="713.53" y2="1299.61" stroke="#000" stroke-width="0.98"/><ellipse cx="713.53" cy="1299.61" rx="2.55" ry="1.43" transform="rotate(152 713.53 1299.61)" fill="#000"/><line x1="717.50" y1="1297.50" x2="713.53" y2="1295.39" stroke="#000" stroke-width="0.98"/><ellipse cx="713.53" cy="1295.39" rx="2.55" ry="1.43" transform="rotate(208 713.53 1295.39)" fill="#000"/>
<line x1="892.50" y1="1233.62" x2="892.50" y2="1246.38" stroke="#000" stroke-width="1.50"/><ellipse cx="892.50" cy="1235.28" rx="1.43" ry="2.70" fill="#000"/><ellipse cx="892.50" cy="1244.72" rx="1.43" ry="2.70" fill="#000"/><line x1="892.50" y1="1240.00" x2="896.47" y2="1237.89" stroke="#000" stroke-width="0.98"/><ellipse cx="896.47" cy="1237.89" rx="2.55" ry="1.43" transform="rotate(-28 896.47 1237.89)" fill="#000"/><line x1="892.50" y1="1240.00" x2="896.47" y2="1242.11" stroke="#000" stroke-width="0.98"/><ellipse cx="896.47" cy="1242.11" rx="2.55" ry="1.43" transform="rotate(28 896.47 1242.11)" fill="#000"/><line x1="892.50" y1="1240.00" x2="888.53" y2="1242.11" stroke="#000" stroke-width="0.98"/><ellipse cx="888.53" cy="1242.11" rx="2.55" ry="1.43" transform="rotate(152 888.53 1242.11)" fill="#000"/><line x1="892.50" y1="1240.00" x2="888.53" y2="1237.89" stroke="#000" stroke-width="0.98"/><ellipse cx="888.53" cy="1237.89" rx="2.55" ry="1.43" transform="rotate(208 888.53 1237.89)" fill="#000"/>
<text x="539.00" y="1625.00" font-size="33" text-anchor="middle" fill="#000" transform="translate(539.00 1625.00) scale(0.965 1) translate(-539.00 -1625.00)" >CK</text>
<text x="714.50" y="1625.00" font-size="33" text-anchor="middle" fill="#000" transform="translate(714.50 1625.00) scale(0.965 1) translate(-714.50 -1625.00)" >O-GAPCp1</text>
<text x="892.75" y="1625.00" font-size="33" text-anchor="middle" fill="#000" transform="translate(892.75 1625.00) scale(0.965 1) translate(-892.75 -1625.00)" >O-GAPC2</text>
<text x="396.80" y="1377.00" font-size="31.7" text-anchor="middle" fill="#000" transform="rotate(-90 396.80 1377.00)" >Sucrose content (mg/g)</text>
<text x="384.00" y="1170.00" font-size="32" text-anchor="start" fill="#000" >E</text>
<rect x="135.70" y="1824.00" width="26.90" height="315.00" fill="#808080" />
<rect x="162.60" y="1956.00" width="27.50" height="183.00" fill="#000" />
<rect x="191.25" y="1967.15" width="24.50" height="173.00" fill="#fff" stroke="#000" stroke-width="2.3"/>
<rect x="256.80" y="1824.00" width="26.90" height="315.00" fill="#808080" />
<rect x="283.70" y="1929.00" width="27.50" height="210.00" fill="#000" />
<rect x="312.35" y="2024.65" width="24.50" height="115.50" fill="#fff" stroke="#000" stroke-width="2.3"/>
<rect x="378.30" y="1824.00" width="26.90" height="315.00" fill="#808080" />
<rect x="405.20" y="1911.00" width="27.50" height="228.00" fill="#000" />
<rect x="433.85" y="1934.65" width="24.50" height="205.50" fill="#fff" stroke="#000" stroke-width="2.3"/>
<rect x="499.30" y="1824.00" width="26.90" height="315.00" fill="#808080" />
<rect x="526.20" y="2010.00" width="27.50" height="129.00" fill="#000" />
<rect x="554.85" y="2043.65" width="24.50" height="96.50" fill="#fff" stroke="#000" stroke-width="2.3"/>
<rect x="620.80" y="1824.00" width="26.90" height="315.00" fill="#808080" />
<rect x="647.70" y="1797.50" width="27.50" height="341.50" fill="#000" />
<rect x="676.35" y="1798.65" width="24.50" height="341.50" fill="#fff" stroke="#000" stroke-width="2.3"/>
<rect x="742.30" y="1824.00" width="26.90" height="315.00" fill="#808080" />
<rect x="769.20" y="1957.50" width="27.50" height="181.50" fill="#000" />
<rect x="797.85" y="1859.65" width="24.50" height="280.50" fill="#fff" stroke="#000" stroke-width="2.3"/>
<rect x="863.55" y="1824.00" width="26.90" height="315.00" fill="#808080" />
<rect x="890.45" y="1947.50" width="27.50" height="191.50" fill="#000" />
<rect x="919.10" y="1903.15" width="24.50" height="237.00" fill="#fff" stroke="#000" stroke-width="2.3"/>
<rect x="984.80" y="1824.00" width="26.90" height="315.00" fill="#808080" />
<rect x="1011.70" y="1879.00" width="27.50" height="260.00" fill="#000" />
<rect x="1040.35" y="1822.65" width="24.50" height="317.50" fill="#fff" stroke="#000" stroke-width="2.3"/>
<rect x="1106.05" y="1824.00" width="26.90" height="315.00" fill="#808080" />
<rect x="1132.95" y="2032.50" width="27.50" height="106.50" fill="#000" />
<rect x="1161.60" y="2079.15" width="24.50" height="61.00" fill="#fff" stroke="#000" stroke-width="2.3"/>
<rect x="1227.60" y="1824.00" width="26.90" height="315.00" fill="#808080" />
<rect x="1254.50" y="1772.50" width="27.50" height="366.50" fill="#000" />
<rect x="1283.15" y="1863.65" width="24.50" height="276.50" fill="#fff" stroke="#000" stroke-width="2.3"/>
<line x1="148.90" y1="1808.00" x2="148.90" y2="1841.00" stroke="#505050" stroke-width="2.7" stroke-linecap="butt"/>
<line x1="142.50" y1="1808.00" x2="155.30" y2="1808.00" stroke="#505050" stroke-width="2.1" stroke-linecap="butt"/>
<line x1="142.50" y1="1841.00" x2="155.30" y2="1841.00" stroke="#505050" stroke-width="2.1" stroke-linecap="butt"/>
<line x1="175.90" y1="1920.00" x2="175.90" y2="1991.00" stroke="#505050" stroke-width="2.7" stroke-linecap="butt"/>
<line x1="169.50" y1="1920.00" x2="182.30" y2="1920.00" stroke="#505050" stroke-width="2.1" stroke-linecap="butt"/>
<line x1="169.50" y1="1991.00" x2="182.30" y2="1991.00" stroke="#505050" stroke-width="2.1" stroke-linecap="butt"/>
<line x1="202.90" y1="1901.00" x2="202.90" y2="2033.00" stroke="#505050" stroke-width="2.7" stroke-linecap="butt"/>
<line x1="196.50" y1="1901.00" x2="209.30" y2="1901.00" stroke="#505050" stroke-width="2.1" stroke-linecap="butt"/>
<line x1="196.50" y1="2033.00" x2="209.30" y2="2033.00" stroke="#505050" stroke-width="2.1" stroke-linecap="butt"/>
<line x1="175.90" y1="1876.12" x2="175.90" y2="1888.88" stroke="#000" stroke-width="1.50"/><ellipse cx="175.90" cy="1877.78" rx="1.43" ry="2.70" fill="#000"/><ellipse cx="175.90" cy="1887.22" rx="1.43" ry="2.70" fill="#000"/><line x1="175.90" y1="1882.50" x2="179.87" y2="1880.39" stroke="#000" stroke-width="0.98"/><ellipse cx="179.87" cy="1880.39" rx="2.55" ry="1.43" transform="rotate(-28 179.87 1880.39)" fill="#000"/><line x1="175.90" y1="1882.50" x2="179.87" y2="1884.61" stroke="#000" stroke-width="0.98"/><ellipse cx="179.87" cy="1884.61" rx="2.55" ry="1.43" transform="rotate(28 179.87 1884.61)" fill="#000"/><line x1="175.90" y1="1882.50" x2="171.93" y2="1884.61" stroke="#000" stroke-width="0.98"/><ellipse cx="171.93" cy="1884.61" rx="2.55" ry="1.43" transform="rotate(152 171.93 1884.61)" fill="#000"/><line x1="175.90" y1="1882.50" x2="171.93" y2="1880.39" stroke="#000" stroke-width="0.98"/><ellipse cx="171.93" cy="1880.39" rx="2.55" ry="1.43" transform="rotate(208 171.93 1880.39)" fill="#000"/>
<line x1="202.90" y1="1863.62" x2="202.90" y2="1876.38" stroke="#000" stroke-width="1.50"/><ellipse cx="202.90" cy="1865.28" rx="1.43" ry="2.70" fill="#000"/><ellipse cx="202.90" cy="1874.72" rx="1.43" ry="2.70" fill="#000"/><line x1="202.90" y1="1870.00" x2="206.87" y2="1867.89" stroke="#000" stroke-width="0.98"/><ellipse cx="206.87" cy="1867.89" rx="2.55" ry="1.43" transform="rotate(-28 206.87 1867.89)" fill="#000"/><line x1="202.90" y1="1870.00" x2="206.87" y2="1872.11" stroke="#000" stroke-width="0.98"/><ellipse cx="206.87" cy="1872.11" rx="2.55" ry="1.43" transform="rotate(28 206.87 1872.11)" fill="#000"/><line x1="202.90" y1="1870.00" x2="198.93" y2="1872.11" stroke="#000" stroke-width="0.98"/><ellipse cx="198.93" cy="1872.11" rx="2.55" ry="1.43" transform="rotate(152 198.93 1872.11)" fill="#000"/><line x1="202.90" y1="1870.00" x2="198.93" y2="1867.89" stroke="#000" stroke-width="0.98"/><ellipse cx="198.93" cy="1867.89" rx="2.55" ry="1.43" transform="rotate(208 198.93 1867.89)" fill="#000"/>
<line x1="270.00" y1="1806.00" x2="270.00" y2="1842.00" stroke="#505050" stroke-width="2.7" stroke-linecap="butt"/>
<line x1="263.60" y1="1806.00" x2="276.40" y2="1806.00" stroke="#505050" stroke-width="2.1" stroke-linecap="butt"/>
<line x1="263.60" y1="1842.00" x2="276.40" y2="1842.00" stroke="#505050" stroke-width="2.1" stroke-linecap="butt"/>
<line x1="297.00" y1="1920.00" x2="297.00" y2="1938.00" stroke="#505050" stroke-width="2.7" stroke-linecap="butt"/>
<line x1="290.60" y1="1920.00" x2="303.40" y2="1920.00" stroke="#505050" stroke-width="2.1" stroke-linecap="butt"/>
<line x1="290.60" y1="1938.00" x2="303.40" y2="1938.00" stroke="#505050" stroke-width="2.1" stroke-linecap="butt"/>
<line x1="324.00" y1="1990.00" x2="324.00" y2="2057.50" stroke="#505050" stroke-width="2.7" stroke-linecap="butt"/>
<line x1="317.60" y1="1990.00" x2="330.40" y2="1990.00" stroke="#505050" stroke-width="2.1" stroke-linecap="butt"/>
<line x1="317.60" y1="2057.50" x2="330.40" y2="2057.50" stroke="#505050" stroke-width="2.1" stroke-linecap="butt"/>
<line x1="297.00" y1="1877.12" x2="297.00" y2="1889.88" stroke="#000" stroke-width="1.50"/><ellipse cx="297.00" cy="1878.78" rx="1.43" ry="2.70" fill="#000"/><ellipse cx="297.00" cy="1888.22" rx="1.43" ry="2.70" fill="#000"/><line x1="297.00" y1="1883.50" x2="300.97" y2="1881.39" stroke="#000" stroke-width="0.98"/><ellipse cx="300.97" cy="1881.39" rx="2.55" ry="1.43" transform="rotate(-28 300.97 1881.39)" fill="#000"/><line x1="297.00" y1="1883.50" x2="300.97" y2="1885.61" stroke="#000" stroke-width="0.98"/><ellipse cx="300.97" cy="1885.61" rx="2.55" ry="1.43" transform="rotate(28 300.97 1885.61)" fill="#000"/><line x1="297.00" y1="1883.50" x2="293.03" y2="1885.61" stroke="#000" stroke-width="0.98"/><ellipse cx="293.03" cy="1885.61" rx="2.55" ry="1.43" transform="rotate(152 293.03 1885.61)" fill="#000"/><line x1="297.00" y1="1883.50" x2="293.03" y2="1881.39" stroke="#000" stroke-width="0.98"/><ellipse cx="293.03" cy="1881.39" rx="2.55" ry="1.43" transform="rotate(208 293.03 1881.39)" fill="#000"/>
<line x1="324.00" y1="1949.62" x2="324.00" y2="1962.38" stroke="#000" stroke-width="1.50"/><ellipse cx="324.00" cy="1951.28" rx="1.43" ry="2.70" fill="#000"/><ellipse cx="324.00" cy="1960.72" rx="1.43" ry="2.70" fill="#000"/><line x1="324.00" y1="1956.00" x2="327.97" y2="1953.89" stroke="#000" stroke-width="0.98"/><ellipse cx="327.97" cy="1953.89" rx="2.55" ry="1.43" transform="rotate(-28 327.97 1953.89)" fill="#000"/><line x1="324.00" y1="1956.00" x2="327.97" y2="1958.11" stroke="#000" stroke-width="0.98"/><ellipse cx="327.97" cy="1958.11" rx="2.55" ry="1.43" transform="rotate(28 327.97 1958.11)" fill="#000"/><line x1="324.00" y1="1956.00" x2="320.03" y2="1958.11" stroke="#000" stroke-width="0.98"/><ellipse cx="320.03" cy="1958.11" rx="2.55" ry="1.43" transform="rotate(152 320.03 1958.11)" fill="#000"/><line x1="324.00" y1="1956.00" x2="320.03" y2="1953.89" stroke="#000" stroke-width="0.98"/><ellipse cx="320.03" cy="1953.89" rx="2.55" ry="1.43" transform="rotate(208 320.03 1953.89)" fill="#000"/>
<line x1="391.50" y1="1808.00" x2="391.50" y2="1840.00" stroke="#505050" stroke-width="2.7" stroke-linecap="butt"/>
<line x1="385.10" y1="1808.00" x2="397.90" y2="1808.00" stroke="#505050" stroke-width="2.1" stroke-linecap="butt"/>
<line x1="385.10" y1="1840.00" x2="397.90" y2="1840.00" stroke="#505050" stroke-width="2.1" stroke-linecap="butt"/>
<line x1="418.50" y1="1875.00" x2="418.50" y2="1946.00" stroke="#505050" stroke-width="2.7" stroke-linecap="butt"/>
<line x1="412.10" y1="1875.00" x2="424.90" y2="1875.00" stroke="#505050" stroke-width="2.1" stroke-linecap="butt"/>
<line x1="412.10" y1="1946.00" x2="424.90" y2="1946.00" stroke="#505050" stroke-width="2.1" stroke-linecap="butt"/>
<line x1="445.50" y1="1880.00" x2="445.50" y2="1988.00" stroke="#505050" stroke-width="2.7" stroke-linecap="butt"/>
<line x1="439.10" y1="1880.00" x2="451.90" y2="1880.00" stroke="#505050" stroke-width="2.1" stroke-linecap="butt"/>
<line x1="439.10" y1="1988.00" x2="451.90" y2="1988.00" stroke="#505050" stroke-width="2.1" stroke-linecap="butt"/>
<line x1="418.50" y1="1842.12" x2="418.50" y2="1854.88" stroke="#000" stroke-width="1.50"/><ellipse cx="418.50" cy="1843.78" rx="1.43" ry="2.70" fill="#000"/><ellipse cx="418.50" cy="1853.22" rx="1.43" ry="2.70" fill="#000"/><line x1="418.50" y1="1848.50" x2="422.47" y2="1846.39" stroke="#000" stroke-width="0.98"/><ellipse cx="422.47" cy="1846.39" rx="2.55" ry="1.43" transform="rotate(-28 422.47 1846.39)" fill="#000"/><line x1="418.50" y1="1848.50" x2="422.47" y2="1850.61" stroke="#000" stroke-width="0.98"/><ellipse cx="422.47" cy="1850.61" rx="2.55" ry="1.43" transform="rotate(28 422.47 1850.61)" fill="#000"/><line x1="418.50" y1="1848.50" x2="414.53" y2="1850.61" stroke="#000" stroke-width="0.98"/><ellipse cx="414.53" cy="1850.61" rx="2.55" ry="1.43" transform="rotate(152 414.53 1850.61)" fill="#000"/><line x1="418.50" y1="1848.50" x2="414.53" y2="1846.39" stroke="#000" stroke-width="0.98"/><ellipse cx="414.53" cy="1846.39" rx="2.55" ry="1.43" transform="rotate(208 414.53 1846.39)" fill="#000"/>
<line x1="445.50" y1="1847.12" x2="445.50" y2="1859.88" stroke="#000" stroke-width="1.50"/><ellipse cx="445.50" cy="1848.78" rx="1.43" ry="2.70" fill="#000"/><ellipse cx="445.50" cy="1858.22" rx="1.43" ry="2.70" fill="#000"/><line x1="445.50" y1="1853.50" x2="449.47" y2="1851.39" stroke="#000" stroke-width="0.98"/><ellipse cx="449.47" cy="1851.39" rx="2.55" ry="1.43" transform="rotate(-28 449.47 1851.39)" fill="#000"/><line x1="445.50" y1="1853.50" x2="449.47" y2="1855.61" stroke="#000" stroke-width="0.98"/><ellipse cx="449.47" cy="1855.61" rx="2.55" ry="1.43" transform="rotate(28 449.47 1855.61)" fill="#000"/><line x1="445.50" y1="1853.50" x2="441.53" y2="1855.61" stroke="#000" stroke-width="0.98"/><ellipse cx="441.53" cy="1855.61" rx="2.55" ry="1.43" transform="rotate(152 441.53 1855.61)" fill="#000"/><line x1="445.50" y1="1853.50" x2="441.53" y2="1851.39" stroke="#000" stroke-width="0.98"/><ellipse cx="441.53" cy="1851.39" rx="2.55" ry="1.43" transform="rotate(208 441.53 1851.39)" fill="#000"/>
<line x1="512.50" y1="1808.00" x2="512.50" y2="1839.00" stroke="#505050" stroke-width="2.7" stroke-linecap="butt"/>
<line x1="506.10" y1="1808.00" x2="518.90" y2="1808.00" stroke="#505050" stroke-width="2.1" stroke-linecap="butt"/>
<line x1="506.10" y1="1839.00" x2="518.90" y2="1839.00" stroke="#505050" stroke-width="2.1" stroke-linecap="butt"/>
<line x1="539.50" y1="2002.00" x2="539.50" y2="2017.50" stroke="#505050" stroke-width="2.7" stroke-linecap="butt"/>
<line x1="533.10" y1="2002.00" x2="545.90" y2="2002.00" stroke="#505050" stroke-width="2.1" stroke-linecap="butt"/>
<line x1="533.10" y1="2017.50" x2="545.90" y2="2017.50" stroke="#505050" stroke-width="2.1" stroke-linecap="butt"/>
<line x1="566.50" y1="2016.00" x2="566.50" y2="2071.00" stroke="#505050" stroke-width="2.7" stroke-linecap="butt"/>
<line x1="560.10" y1="2016.00" x2="572.90" y2="2016.00" stroke="#505050" stroke-width="2.1" stroke-linecap="butt"/>
<line x1="560.10" y1="2071.00" x2="572.90" y2="2071.00" stroke="#505050" stroke-width="2.1" stroke-linecap="butt"/>
<line x1="539.50" y1="1958.62" x2="539.50" y2="1971.38" stroke="#000" stroke-width="1.50"/><ellipse cx="539.50" cy="1960.28" rx="1.43" ry="2.70" fill="#000"/><ellipse cx="539.50" cy="1969.72" rx="1.43" ry="2.70" fill="#000"/><line x1="539.50" y1="1965.00" x2="543.47" y2="1962.89" stroke="#000" stroke-width="0.98"/><ellipse cx="543.47" cy="1962.89" rx="2.55" ry="1.43" transform="rotate(-28 543.47 1962.89)" fill="#000"/><line x1="539.50" y1="1965.00" x2="543.47" y2="1967.11" stroke="#000" stroke-width="0.98"/><ellipse cx="543.47" cy="1967.11" rx="2.55" ry="1.43" transform="rotate(28 543.47 1967.11)" fill="#000"/><line x1="539.50" y1="1965.00" x2="535.53" y2="1967.11" stroke="#000" stroke-width="0.98"/><ellipse cx="535.53" cy="1967.11" rx="2.55" ry="1.43" transform="rotate(152 535.53 1967.11)" fill="#000"/><line x1="539.50" y1="1965.00" x2="535.53" y2="1962.89" stroke="#000" stroke-width="0.98"/><ellipse cx="535.53" cy="1962.89" rx="2.55" ry="1.43" transform="rotate(208 535.53 1962.89)" fill="#000"/>
<line x1="566.50" y1="1983.62" x2="566.50" y2="1996.38" stroke="#000" stroke-width="1.50"/><ellipse cx="566.50" cy="1985.28" rx="1.43" ry="2.70" fill="#000"/><ellipse cx="566.50" cy="1994.72" rx="1.43" ry="2.70" fill="#000"/><line x1="566.50" y1="1990.00" x2="570.47" y2="1987.89" stroke="#000" stroke-width="0.98"/><ellipse cx="570.47" cy="1987.89" rx="2.55" ry="1.43" transform="rotate(-28 570.47 1987.89)" fill="#000"/><line x1="566.50" y1="1990.00" x2="570.47" y2="1992.11" stroke="#000" stroke-width="0.98"/><ellipse cx="570.47" cy="1992.11" rx="2.55" ry="1.43" transform="rotate(28 570.47 1992.11)" fill="#000"/><line x1="566.50" y1="1990.00" x2="562.53" y2="1992.11" stroke="#000" stroke-width="0.98"/><ellipse cx="562.53" cy="1992.11" rx="2.55" ry="1.43" transform="rotate(152 562.53 1992.11)" fill="#000"/><line x1="566.50" y1="1990.00" x2="562.53" y2="1987.89" stroke="#000" stroke-width="0.98"/><ellipse cx="562.53" cy="1987.89" rx="2.55" ry="1.43" transform="rotate(208 562.53 1987.89)" fill="#000"/>
<line x1="634.00" y1="1806.00" x2="634.00" y2="1842.00" stroke="#505050" stroke-width="2.7" stroke-linecap="butt"/>
<line x1="627.60" y1="1806.00" x2="640.40" y2="1806.00" stroke="#505050" stroke-width="2.1" stroke-linecap="butt"/>
<line x1="627.60" y1="1842.00" x2="640.40" y2="1842.00" stroke="#505050" stroke-width="2.1" stroke-linecap="butt"/>
<line x1="661.00" y1="1717.50" x2="661.00" y2="1877.50" stroke="#505050" stroke-width="2.7" stroke-linecap="butt"/>
<line x1="654.60" y1="1717.50" x2="667.40" y2="1717.50" stroke="#505050" stroke-width="2.1" stroke-linecap="butt"/>
<line x1="654.60" y1="1877.50" x2="667.40" y2="1877.50" stroke="#505050" stroke-width="2.1" stroke-linecap="butt"/>
<line x1="688.00" y1="1742.50" x2="688.00" y2="1853.00" stroke="#505050" stroke-width="2.7" stroke-linecap="butt"/>
<line x1="681.60" y1="1742.50" x2="694.40" y2="1742.50" stroke="#505050" stroke-width="2.1" stroke-linecap="butt"/>
<line x1="681.60" y1="1853.00" x2="694.40" y2="1853.00" stroke="#505050" stroke-width="2.1" stroke-linecap="butt"/>
<line x1="755.50" y1="1790.00" x2="755.50" y2="1856.50" stroke="#505050" stroke-width="2.7" stroke-linecap="butt"/>
<line x1="749.10" y1="1790.00" x2="761.90" y2="1790.00" stroke="#505050" stroke-width="2.1" stroke-linecap="butt"/>
<line x1="749.10" y1="1856.50" x2="761.90" y2="1856.50" stroke="#505050" stroke-width="2.1" stroke-linecap="butt"/>
<line x1="782.50" y1="1939.00" x2="782.50" y2="1972.50" stroke="#505050" stroke-width="2.7" stroke-linecap="butt"/>
<line x1="776.10" y1="1939.00" x2="788.90" y2="1939.00" stroke="#505050" stroke-width="2.1" stroke-linecap="butt"/>
<line x1="776.10" y1="1972.50" x2="788.90" y2="1972.50" stroke="#505050" stroke-width="2.1" stroke-linecap="butt"/>
<line x1="809.50" y1="1842.00" x2="809.50" y2="1876.00" stroke="#505050" stroke-width="2.7" stroke-linecap="butt"/>
<line x1="803.10" y1="1842.00" x2="815.90" y2="1842.00" stroke="#505050" stroke-width="2.1" stroke-linecap="butt"/>
<line x1="803.10" y1="1876.00" x2="815.90" y2="1876.00" stroke="#505050" stroke-width="2.1" stroke-linecap="butt"/>
<line x1="782.50" y1="1901.12" x2="782.50" y2="1913.88" stroke="#000" stroke-width="1.50"/><ellipse cx="782.50" cy="1902.78" rx="1.43" ry="2.70" fill="#000"/><ellipse cx="782.50" cy="1912.22" rx="1.43" ry="2.70" fill="#000"/><line x1="782.50" y1="1907.50" x2="786.47" y2="1905.39" stroke="#000" stroke-width="0.98"/><ellipse cx="786.47" cy="1905.39" rx="2.55" ry="1.43" transform="rotate(-28 786.47 1905.39)" fill="#000"/><line x1="782.50" y1="1907.50" x2="786.47" y2="1909.61" stroke="#000" stroke-width="0.98"/><ellipse cx="786.47" cy="1909.61" rx="2.55" ry="1.43" transform="rotate(28 786.47 1909.61)" fill="#000"/><line x1="782.50" y1="1907.50" x2="778.53" y2="1909.61" stroke="#000" stroke-width="0.98"/><ellipse cx="778.53" cy="1909.61" rx="2.55" ry="1.43" transform="rotate(152 778.53 1909.61)" fill="#000"/><line x1="782.50" y1="1907.50" x2="778.53" y2="1905.39" stroke="#000" stroke-width="0.98"/><ellipse cx="778.53" cy="1905.39" rx="2.55" ry="1.43" transform="rotate(208 778.53 1905.39)" fill="#000"/>
<line x1="876.75" y1="1816.50" x2="876.75" y2="1831.50" stroke="#505050" stroke-width="2.7" stroke-linecap="butt"/>
<line x1="870.35" y1="1816.50" x2="883.15" y2="1816.50" stroke="#505050" stroke-width="2.1" stroke-linecap="butt"/>
<line x1="870.35" y1="1831.50" x2="883.15" y2="1831.50" stroke="#505050" stroke-width="2.1" stroke-linecap="butt"/>
<line x1="903.75" y1="1936.50" x2="903.75" y2="1958.00" stroke="#505050" stroke-width="2.7" stroke-linecap="butt"/>
<line x1="897.35" y1="1936.50" x2="910.15" y2="1936.50" stroke="#505050" stroke-width="2.1" stroke-linecap="butt"/>
<line x1="897.35" y1="1958.00" x2="910.15" y2="1958.00" stroke="#505050" stroke-width="2.1" stroke-linecap="butt"/>
<line x1="930.75" y1="1885.00" x2="930.75" y2="1919.50" stroke="#505050" stroke-width="2.7" stroke-linecap="butt"/>
<line x1="924.35" y1="1885.00" x2="937.15" y2="1885.00" stroke="#505050" stroke-width="2.1" stroke-linecap="butt"/>
<line x1="924.35" y1="1919.50" x2="937.15" y2="1919.50" stroke="#505050" stroke-width="2.1" stroke-linecap="butt"/>
<line x1="903.75" y1="1895.12" x2="903.75" y2="1907.88" stroke="#000" stroke-width="1.50"/><ellipse cx="903.75" cy="1896.78" rx="1.43" ry="2.70" fill="#000"/><ellipse cx="903.75" cy="1906.22" rx="1.43" ry="2.70" fill="#000"/><line x1="903.75" y1="1901.50" x2="907.72" y2="1899.39" stroke="#000" stroke-width="0.98"/><ellipse cx="907.72" cy="1899.39" rx="2.55" ry="1.43" transform="rotate(-28 907.72 1899.39)" fill="#000"/><line x1="903.75" y1="1901.50" x2="907.72" y2="1903.61" stroke="#000" stroke-width="0.98"/><ellipse cx="907.72" cy="1903.61" rx="2.55" ry="1.43" transform="rotate(28 907.72 1903.61)" fill="#000"/><line x1="903.75" y1="1901.50" x2="899.78" y2="1903.61" stroke="#000" stroke-width="0.98"/><ellipse cx="899.78" cy="1903.61" rx="2.55" ry="1.43" transform="rotate(152 899.78 1903.61)" fill="#000"/><line x1="903.75" y1="1901.50" x2="899.78" y2="1899.39" stroke="#000" stroke-width="0.98"/><ellipse cx="899.78" cy="1899.39" rx="2.55" ry="1.43" transform="rotate(208 899.78 1899.39)" fill="#000"/>
<line x1="930.75" y1="1849.62" x2="930.75" y2="1862.38" stroke="#000" stroke-width="1.50"/><ellipse cx="930.75" cy="1851.28" rx="1.43" ry="2.70" fill="#000"/><ellipse cx="930.75" cy="1860.72" rx="1.43" ry="2.70" fill="#000"/><line x1="930.75" y1="1856.00" x2="934.72" y2="1853.89" stroke="#000" stroke-width="0.98"/><ellipse cx="934.72" cy="1853.89" rx="2.55" ry="1.43" transform="rotate(-28 934.72 1853.89)" fill="#000"/><line x1="930.75" y1="1856.00" x2="934.72" y2="1858.11" stroke="#000" stroke-width="0.98"/><ellipse cx="934.72" cy="1858.11" rx="2.55" ry="1.43" transform="rotate(28 934.72 1858.11)" fill="#000"/><line x1="930.75" y1="1856.00" x2="926.78" y2="1858.11" stroke="#000" stroke-width="0.98"/><ellipse cx="926.78" cy="1858.11" rx="2.55" ry="1.43" transform="rotate(152 926.78 1858.11)" fill="#000"/><line x1="930.75" y1="1856.00" x2="926.78" y2="1853.89" stroke="#000" stroke-width="0.98"/><ellipse cx="926.78" cy="1853.89" rx="2.55" ry="1.43" transform="rotate(208 926.78 1853.89)" fill="#000"/>
<line x1="998.00" y1="1813.00" x2="998.00" y2="1834.50" stroke="#505050" stroke-width="2.7" stroke-linecap="butt"/>
<line x1="991.60" y1="1813.00" x2="1004.40" y2="1813.00" stroke="#505050" stroke-width="2.1" stroke-linecap="butt"/>
<line x1="991.60" y1="1834.50" x2="1004.40" y2="1834.50" stroke="#505050" stroke-width="2.1" stroke-linecap="butt"/>
<line x1="1025.00" y1="1849.00" x2="1025.00" y2="1907.50" stroke="#505050" stroke-width="2.7" stroke-linecap="butt"/>
<line x1="1018.60" y1="1849.00" x2="1031.40" y2="1849.00" stroke="#505050" stroke-width="2.1" stroke-linecap="butt"/>
<line x1="1018.60" y1="1907.50" x2="1031.40" y2="1907.50" stroke="#505050" stroke-width="2.1" stroke-linecap="butt"/>
<line x1="1052.00" y1="1795.00" x2="1052.00" y2="1849.00" stroke="#505050" stroke-width="2.7" stroke-linecap="butt"/>
<line x1="1045.60" y1="1795.00" x2="1058.40" y2="1795.00" stroke="#505050" stroke-width="2.1" stroke-linecap="butt"/>
<line x1="1045.60" y1="1849.00" x2="1058.40" y2="1849.00" stroke="#505050" stroke-width="2.1" stroke-linecap="butt"/>
<line x1="1025.00" y1="1812.12" x2="1025.00" y2="1824.88" stroke="#000" stroke-width="1.50"/><ellipse cx="1025.00" cy="1813.78" rx="1.43" ry="2.70" fill="#000"/><ellipse cx="1025.00" cy="1823.22" rx="1.43" ry="2.70" fill="#000"/><line x1="1025.00" y1="1818.50" x2="1028.97" y2="1816.39" stroke="#000" stroke-width="0.98"/><ellipse cx="1028.97" cy="1816.39" rx="2.55" ry="1.43" transform="rotate(-28 1028.97 1816.39)" fill="#000"/><line x1="1025.00" y1="1818.50" x2="1028.97" y2="1820.61" stroke="#000" stroke-width="0.98"/><ellipse cx="1028.97" cy="1820.61" rx="2.55" ry="1.43" transform="rotate(28 1028.97 1820.61)" fill="#000"/><line x1="1025.00" y1="1818.50" x2="1021.03" y2="1820.61" stroke="#000" stroke-width="0.98"/><ellipse cx="1021.03" cy="1820.61" rx="2.55" ry="1.43" transform="rotate(152 1021.03 1820.61)" fill="#000"/><line x1="1025.00" y1="1818.50" x2="1021.03" y2="1816.39" stroke="#000" stroke-width="0.98"/><ellipse cx="1021.03" cy="1816.39" rx="2.55" ry="1.43" transform="rotate(208 1021.03 1816.39)" fill="#000"/>
<line x1="1119.25" y1="1813.00" x2="1119.25" y2="1834.50" stroke="#505050" stroke-width="2.7" stroke-linecap="butt"/>
<line x1="1112.85" y1="1813.00" x2="1125.65" y2="1813.00" stroke="#505050" stroke-width="2.1" stroke-linecap="butt"/>
<line x1="1112.85" y1="1834.50" x2="1125.65" y2="1834.50" stroke="#505050" stroke-width="2.1" stroke-linecap="butt"/>
<line x1="1146.25" y1="2013.00" x2="1146.25" y2="2051.50" stroke="#505050" stroke-width="2.7" stroke-linecap="butt"/>
<line x1="1139.85" y1="2013.00" x2="1152.65" y2="2013.00" stroke="#505050" stroke-width="2.1" stroke-linecap="butt"/>
<line x1="1139.85" y1="2051.50" x2="1152.65" y2="2051.50" stroke="#505050" stroke-width="2.1" stroke-linecap="butt"/>
<line x1="1173.25" y1="2060.00" x2="1173.25" y2="2096.50" stroke="#505050" stroke-width="2.7" stroke-linecap="butt"/>
<line x1="1166.85" y1="2060.00" x2="1179.65" y2="2060.00" stroke="#505050" stroke-width="2.1" stroke-linecap="butt"/>
<line x1="1166.85" y1="2096.50" x2="1179.65" y2="2096.50" stroke="#505050" stroke-width="2.1" stroke-linecap="butt"/>
<line x1="1146.25" y1="1979.62" x2="1146.25" y2="1992.38" stroke="#000" stroke-width="1.50"/><ellipse cx="1146.25" cy="1981.28" rx="1.43" ry="2.70" fill="#000"/><ellipse cx="1146.25" cy="1990.72" rx="1.43" ry="2.70" fill="#000"/><line x1="1146.25" y1="1986.00" x2="1150.22" y2="1983.89" stroke="#000" stroke-width="0.98"/><ellipse cx="1150.22" cy="1983.89" rx="2.55" ry="1.43" transform="rotate(-28 1150.22 1983.89)" fill="#000"/><line x1="1146.25" y1="1986.00" x2="1150.22" y2="1988.11" stroke="#000" stroke-width="0.98"/><ellipse cx="1150.22" cy="1988.11" rx="2.55" ry="1.43" transform="rotate(28 1150.22 1988.11)" fill="#000"/><line x1="1146.25" y1="1986.00" x2="1142.28" y2="1988.11" stroke="#000" stroke-width="0.98"/><ellipse cx="1142.28" cy="1988.11" rx="2.55" ry="1.43" transform="rotate(152 1142.28 1988.11)" fill="#000"/><line x1="1146.25" y1="1986.00" x2="1142.28" y2="1983.89" stroke="#000" stroke-width="0.98"/><ellipse cx="1142.28" cy="1983.89" rx="2.55" ry="1.43" transform="rotate(208 1142.28 1983.89)" fill="#000"/>
<line x1="1173.25" y1="2026.12" x2="1173.25" y2="2038.88" stroke="#000" stroke-width="1.50"/><ellipse cx="1173.25" cy="2027.78" rx="1.43" ry="2.70" fill="#000"/><ellipse cx="1173.25" cy="2037.22" rx="1.43" ry="2.70" fill="#000"/><line x1="1173.25" y1="2032.50" x2="1177.22" y2="2030.39" stroke="#000" stroke-width="0.98"/><ellipse cx="1177.22" cy="2030.39" rx="2.55" ry="1.43" transform="rotate(-28 1177.22 2030.39)" fill="#000"/><line x1="1173.25" y1="2032.50" x2="1177.22" y2="2034.61" stroke="#000" stroke-width="0.98"/><ellipse cx="1177.22" cy="2034.61" rx="2.55" ry="1.43" transform="rotate(28 1177.22 2034.61)" fill="#000"/><line x1="1173.25" y1="2032.50" x2="1169.28" y2="2034.61" stroke="#000" stroke-width="0.98"/><ellipse cx="1169.28" cy="2034.61" rx="2.55" ry="1.43" transform="rotate(152 1169.28 2034.61)" fill="#000"/><line x1="1173.25" y1="2032.50" x2="1169.28" y2="2030.39" stroke="#000" stroke-width="0.98"/><ellipse cx="1169.28" cy="2030.39" rx="2.55" ry="1.43" transform="rotate(208 1169.28 2030.39)" fill="#000"/>
<line x1="1240.80" y1="1808.00" x2="1240.80" y2="1840.00" stroke="#505050" stroke-width="2.7" stroke-linecap="butt"/>
<line x1="1234.40" y1="1808.00" x2="1247.20" y2="1808.00" stroke="#505050" stroke-width="2.1" stroke-linecap="butt"/>
<line x1="1234.40" y1="1840.00" x2="1247.20" y2="1840.00" stroke="#505050" stroke-width="2.1" stroke-linecap="butt"/>
<line x1="1267.80" y1="1741.50" x2="1267.80" y2="1803.00" stroke="#505050" stroke-width="2.7" stroke-linecap="butt"/>
<line x1="1261.40" y1="1741.50" x2="1274.20" y2="1741.50" stroke="#505050" stroke-width="2.1" stroke-linecap="butt"/>
<line x1="1261.40" y1="1803.00" x2="1274.20" y2="1803.00" stroke="#505050" stroke-width="2.1" stroke-linecap="butt"/>
<line x1="1294.80" y1="1822.50" x2="1294.80" y2="1903.50" stroke="#505050" stroke-width="2.7" stroke-linecap="butt"/>
<line x1="1288.40" y1="1822.50" x2="1301.20" y2="1822.50" stroke="#505050" stroke-width="2.1" stroke-linecap="butt"/>
<line x1="1288.40" y1="1903.50" x2="1301.20" y2="1903.50" stroke="#505050" stroke-width="2.1" stroke-linecap="butt"/>
<rect x="115.8" y="1699" width="1212.8" height="440" fill="none" stroke="#000" stroke-width="4.6"/>
<line x1="115.80" y1="2139.00" x2="127.80" y2="2139.00" stroke="#000" stroke-width="4" stroke-linecap="butt"/>
<text x="94.30" y="2149.00" font-size="31.5" text-anchor="end" fill="#000" >0</text>
<line x1="115.80" y1="2076.00" x2="127.80" y2="2076.00" stroke="#000" stroke-width="4" stroke-linecap="butt"/>
<text x="94.30" y="2086.00" font-size="31.5" text-anchor="end" fill="#000" >0.2</text>
<line x1="115.80" y1="2013.00" x2="127.80" y2="2013.00" stroke="#000" stroke-width="4" stroke-linecap="butt"/>
<text x="94.30" y="2023.00" font-size="31.5" text-anchor="end" fill="#000" >0.4</text>
<line x1="115.80" y1="1950.00" x2="127.80" y2="1950.00" stroke="#000" stroke-width="4" stroke-linecap="butt"/>
<text x="94.30" y="1960.00" font-size="31.5" text-anchor="end" fill="#000" >0.6</text>
<line x1="115.80" y1="1887.00" x2="127.80" y2="1887.00" stroke="#000" stroke-width="4" stroke-linecap="butt"/>
<text x="94.30" y="1897.00" font-size="31.5" text-anchor="end" fill="#000" >0.8</text>
<line x1="115.80" y1="1824.00" x2="127.80" y2="1824.00" stroke="#000" stroke-width="4" stroke-linecap="butt"/>
<text x="94.30" y="1834.00" font-size="31.5" text-anchor="end" fill="#000" >1</text>
<line x1="115.80" y1="1761.00" x2="127.80" y2="1761.00" stroke="#000" stroke-width="4" stroke-linecap="butt"/>
<text x="94.30" y="1771.00" font-size="31.5" text-anchor="end" fill="#000" >1.2</text>
<line x1="115.80" y1="1698.00" x2="127.80" y2="1698.00" stroke="#000" stroke-width="4" stroke-linecap="butt"/>
<line x1="236.00" y1="2126.00" x2="236.00" y2="2139.00" stroke="#000" stroke-width="4" stroke-linecap="butt"/>
<line x1="358.00" y1="2126.00" x2="358.00" y2="2139.00" stroke="#000" stroke-width="4" stroke-linecap="butt"/>
<line x1="479.00" y1="2126.00" x2="479.00" y2="2139.00" stroke="#000" stroke-width="4" stroke-linecap="butt"/>
<line x1="600.00" y1="2126.00" x2="600.00" y2="2139.00" stroke="#000" stroke-width="4" stroke-linecap="butt"/>
<line x1="722.00" y1="2126.00" x2="722.00" y2="2139.00" stroke="#000" stroke-width="4" stroke-linecap="butt"/>
<line x1="843.00" y1="2126.00" x2="843.00" y2="2139.00" stroke="#000" stroke-width="4" stroke-linecap="butt"/>
<line x1="964.50" y1="2126.00" x2="964.50" y2="2139.00" stroke="#000" stroke-width="4" stroke-linecap="butt"/>
<line x1="1085.50" y1="2126.00" x2="1085.50" y2="2139.00" stroke="#000" stroke-width="4" stroke-linecap="butt"/>
<line x1="1207.00" y1="2126.00" x2="1207.00" y2="2139.00" stroke="#000" stroke-width="4" stroke-linecap="butt"/>
<text x="175.90" y="2193.20" font-size="36" text-anchor="middle" fill="#000" font-style="italic" transform="translate(175.90 2193.20) scale(0.875 1) translate(-175.90 -2193.20)" >CEL1</text>
<text x="297.00" y="2193.20" font-size="36" text-anchor="middle" fill="#000" font-style="italic" transform="translate(297.00 2193.20) scale(0.875 1) translate(-297.00 -2193.20)" >CEL2</text>
<text x="418.50" y="2193.20" font-size="36" text-anchor="middle" fill="#000" font-style="italic" transform="translate(418.50 2193.20) scale(0.875 1) translate(-418.50 -2193.20)" >ANS</text>
<text x="539.50" y="2193.20" font-size="36" text-anchor="middle" fill="#000" font-style="italic" transform="translate(539.50 2193.20) scale(0.875 1) translate(-539.50 -2193.20)" >SS</text>
<text x="661.00" y="2193.20" font-size="36" text-anchor="middle" fill="#000" font-style="italic" transform="translate(661.00 2193.20) scale(0.875 1) translate(-661.00 -2193.20)" >MYB5</text>
<text x="782.50" y="2193.20" font-size="36" text-anchor="middle" fill="#000" font-style="italic" transform="translate(782.50 2193.20) scale(0.875 1) translate(-782.50 -2193.20)" >ABI1</text>
<text x="903.75" y="2193.20" font-size="36" text-anchor="middle" fill="#000" font-style="italic" transform="translate(903.75 2193.20) scale(0.875 1) translate(-903.75 -2193.20)" >ALDO</text>
<text x="1025.00" y="2193.20" font-size="36" text-anchor="middle" fill="#000" font-style="italic" transform="translate(1025.00 2193.20) scale(0.875 1) translate(-1025.00 -2193.20)" >PK</text>
<text x="1146.25" y="2193.20" font-size="36" text-anchor="middle" fill="#000" font-style="italic" transform="translate(1146.25 2193.20) scale(0.875 1) translate(-1146.25 -2193.20)" >G6PDH</text>
<text x="1267.80" y="2193.20" font-size="36" text-anchor="middle" fill="#000" font-style="italic" transform="translate(1267.80 2193.20) scale(0.875 1) translate(-1267.80 -2193.20)" >NCED1</text>
<rect x="131.00" y="1704.50" width="19.00" height="18.20" fill="#808080" />
<rect x="131.00" y="1741.60" width="19.00" height="18.00" fill="#000" />
<rect x="131.9" y="1780.1" width="17.8" height="17.4" fill="#fff" stroke="#000" stroke-width="1.8"/>
<text x="158.60" y="1723.60" font-size="28.6" text-anchor="start" fill="#595959" >CK</text>
<text x="158.60" y="1760.00" font-size="28.6" text-anchor="start" fill="#595959" >O-GAPCp1</text>
<text x="158.60" y="1797.70" font-size="28.6" text-anchor="start" fill="#595959" >O-GAPC2</text>
<text x="37.70" y="1926.80" font-size="32.4" text-anchor="middle" fill="#000" transform="rotate(-90 37.70 1926.80)" >Relative expression level</text>
<text x="84.50" y="1699.20" font-size="32" text-anchor="start" fill="#000" >F</text>
</g></svg>
</body></html>
